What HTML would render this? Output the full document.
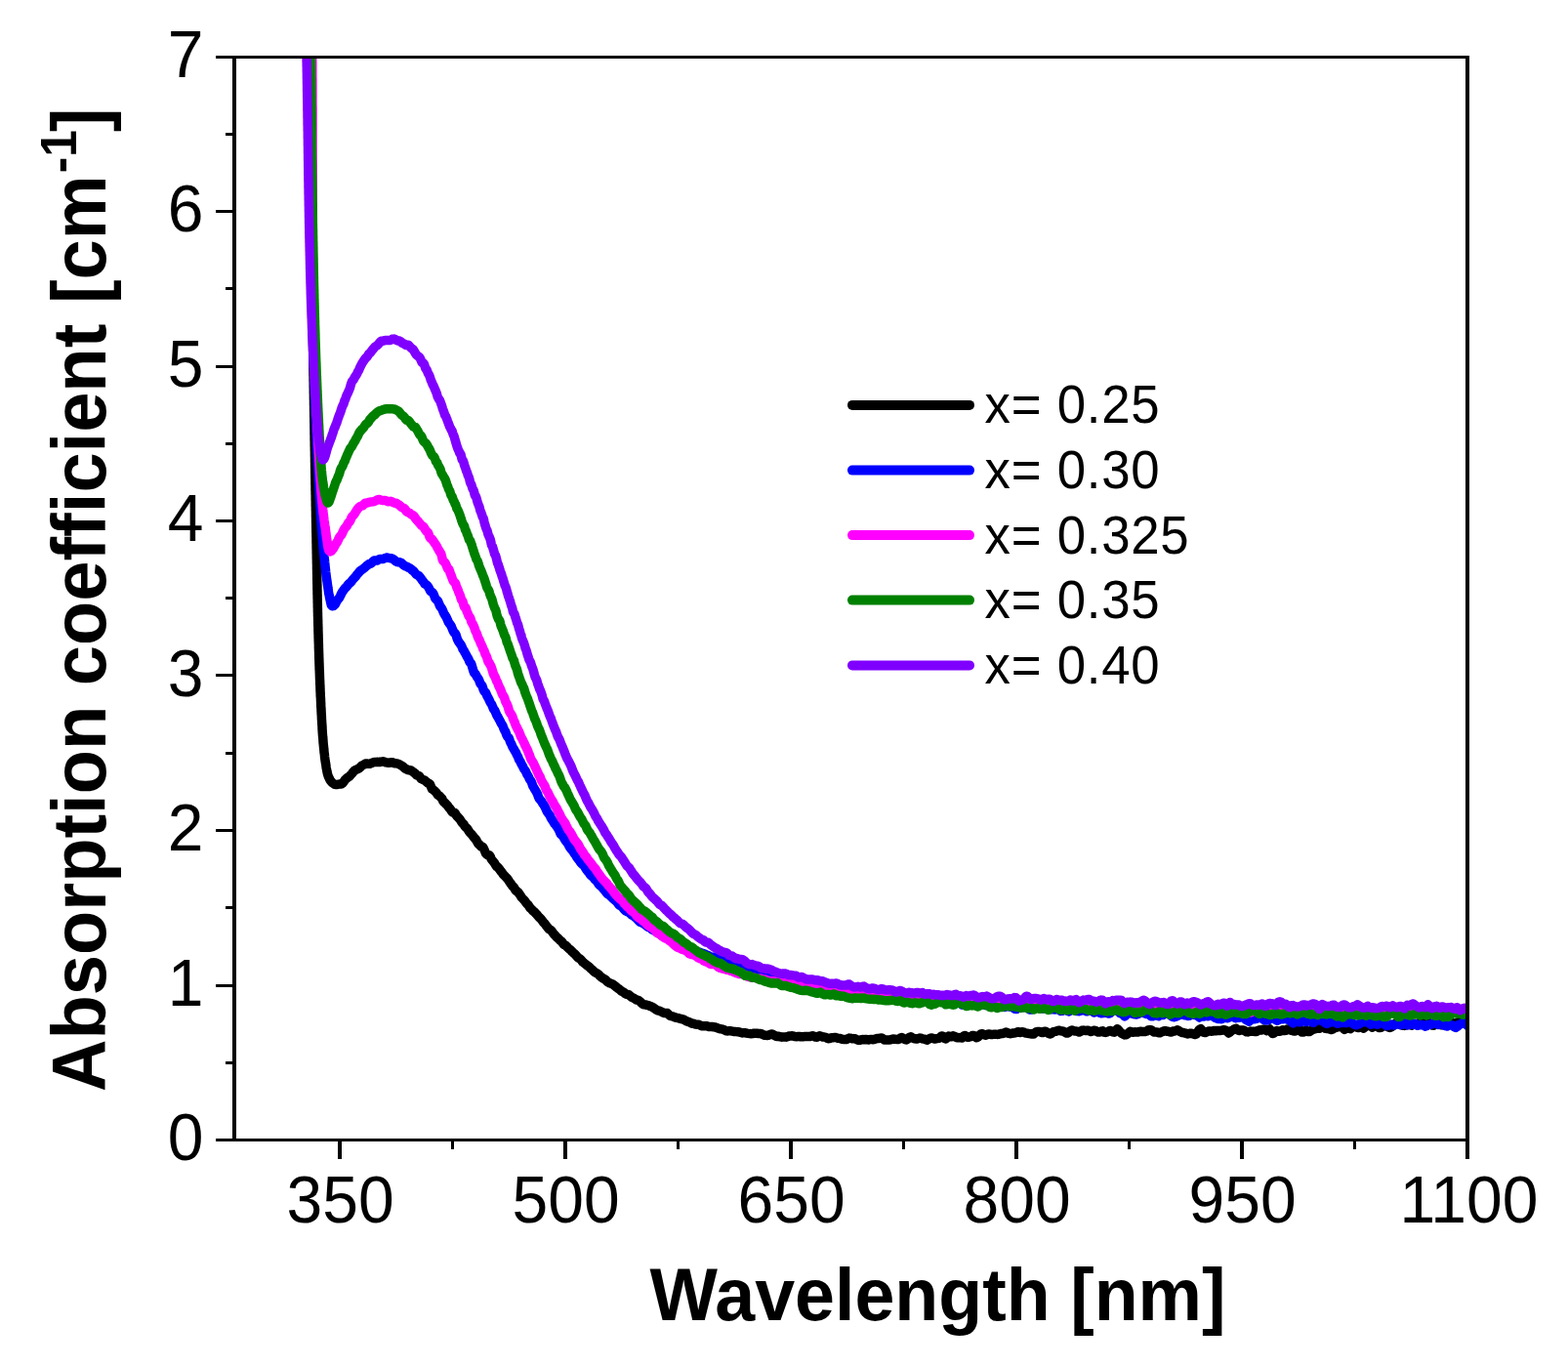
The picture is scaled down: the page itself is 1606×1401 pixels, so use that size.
<!DOCTYPE html>
<html><head><meta charset="utf-8"><title>Absorption coefficient vs wavelength</title>
<style>html,body{margin:0;padding:0;background:#fff;width:1606px;height:1401px;overflow:hidden}svg{display:block}</style>
</head><body>
<svg width="1606" height="1401" viewBox="0 0 1606 1401">
<rect width="100%" height="100%" fill="#fff"/>
<defs><clipPath id="clip"><rect x="240" y="58.5" width="1263" height="1109"/></clipPath></defs>
<g clip-path="url(#clip)"><path d="M317.9,30.1L317.9,31.7 317.9,33.2 317.9,34.5 317.9,35.9 317.9,37.4 317.9,39.0 317.9,40.5 317.9,42.0 317.9,43.4 317.9,45.1 317.9,46.6 317.9,48.1 317.9,49.5 317.9,51.0 317.9,52.6 317.9,54.1 317.9,55.5 317.9,57.0 317.9,58.5 317.9,59.8 317.9,61.3 317.9,62.9 317.9,64.3 317.9,65.7 317.9,67.2 317.9,68.8 317.9,70.2 317.9,71.8 317.9,73.5 317.9,75.1 317.9,76.5 317.9,78.0 317.9,79.6 317.9,81.1 317.9,82.6 317.9,84.1 317.9,85.7 317.9,87.0 317.9,88.5 318.0,90.0 318.0,91.6 318.0,93.1 318.0,94.4 318.0,95.8 318.0,97.3 318.0,98.8 318.0,100.5 318.0,102.1 318.0,103.6 318.0,105.2 318.0,106.8 318.0,108.2 318.0,109.7 318.0,111.1 318.0,112.5 318.0,114.1 318.1,115.5 318.1,116.9 318.1,118.5 318.1,120.1 318.1,121.6 318.1,123.1 318.1,124.6 318.1,126.1 318.1,127.5 318.1,129.1 318.1,130.6 318.1,132.1 318.1,133.6 318.2,135.2 318.2,136.7 318.2,138.2 318.2,139.8 318.2,141.4 318.2,142.8 318.2,144.1 318.2,145.6 318.2,147.2 318.2,148.6 318.2,150.0 318.3,151.6 318.3,153.1 318.3,154.7 318.3,156.2 318.3,157.5 318.3,158.9 318.3,160.4 318.3,162.2 318.3,163.9 318.4,165.3 318.4,166.5 318.4,168.0 318.4,169.8 318.4,171.4 318.4,172.7 318.4,174.1 318.4,175.6 318.4,177.1 318.5,178.6 318.5,180.1 318.5,181.6 318.5,183.2 318.5,184.6 318.5,186.0 318.5,187.4 318.5,189.1 318.6,190.7 318.6,192.1 318.6,193.6 318.6,195.3 318.6,196.9 318.6,198.5 318.6,199.8 318.7,201.0 318.7,202.6 318.7,204.4 318.7,206.0 318.7,207.2 318.7,208.6 318.7,210.1 318.8,211.6 318.8,213.1 318.8,214.6 318.8,216.2 318.8,217.8 318.8,219.3 318.8,220.8 318.9,222.2 318.9,223.5 318.9,224.8 318.9,226.4 318.9,228.1 318.9,229.7 319.0,231.3 319.0,232.9 319.0,234.5 319.0,235.9 319.0,237.4 319.0,238.7 319.0,240.1 319.1,241.5 319.1,243.0 319.1,244.5 319.1,246.0 319.1,247.7 319.1,249.2 319.2,250.5 319.2,251.9 319.2,253.6 319.2,255.3 319.2,256.9 319.3,258.3 319.3,259.7 319.3,261.2 319.3,263.0 319.3,264.6 319.3,266.2 319.4,267.6 319.4,268.8 319.4,270.3 319.4,271.8 319.4,273.4 319.5,274.9 319.5,276.3 319.5,277.7 319.5,279.0 319.5,280.6 319.6,282.1 319.6,283.7 319.6,285.2 319.6,286.8 319.6,288.4 319.6,289.9 319.7,291.3 319.7,292.8 319.7,294.2 319.7,295.7 319.7,297.2 319.8,298.8 319.8,300.3 319.8,301.8 319.8,303.2 319.8,304.7 319.9,306.2 319.9,307.6 319.9,309.1 319.9,310.7 320.0,312.2 320.0,313.6 320.0,315.0 320.0,316.7 320.0,318.4 320.1,319.8 320.1,321.1 320.1,322.6 320.1,324.2 320.1,325.8 320.2,327.2 320.2,328.8 320.2,330.3 320.2,331.7 320.3,333.3 320.3,335.0 320.3,336.5 320.3,337.9 320.3,339.5 320.4,340.9 320.4,342.4 320.4,343.8 320.4,345.3 320.5,346.8 320.5,348.3 320.5,349.7 320.5,351.2 320.5,352.9 320.6,354.6 320.6,356.0 320.6,357.4 320.6,358.8 320.7,360.3 320.7,361.8 320.7,363.1 320.7,364.5 320.7,366.1 320.8,367.6 320.8,369.0 320.8,370.4 320.8,371.9 320.9,373.6 320.9,375.5 320.9,377.1 320.9,378.5 321.0,380.0 321.0,381.2 321.0,382.6 321.0,384.2 321.1,385.9 321.1,387.3 321.1,388.9 321.1,390.4 321.2,391.7 321.2,393.1 321.2,394.7 321.2,396.3 321.3,397.9 321.3,399.6 321.3,401.1 321.3,402.5 321.4,404.0 321.4,405.6 321.4,407.1 321.4,408.6 321.5,410.0 321.5,411.6 321.5,413.3 321.5,414.6 321.6,415.9 321.6,417.5 321.6,419.1 321.6,420.5 321.7,421.9 321.7,423.5 321.7,424.8 321.7,426.4 321.8,427.8 321.8,429.3 321.8,431.0 321.8,432.4 321.9,433.8 321.9,435.3 321.9,436.7 321.9,438.0 322.0,439.7 322.0,441.4 322.0,443.0 322.0,444.5 322.1,446.0 322.1,447.5 322.1,449.0 322.1,450.6 322.2,452.0 322.2,453.5 322.2,454.9 322.2,456.3 322.3,457.9 322.3,459.6 322.3,461.1 322.4,462.4 322.4,463.9 322.4,465.4 322.4,466.9 322.5,468.3 322.5,469.8 322.5,471.3 322.5,472.9 322.6,474.3 322.6,475.6 322.6,477.2 322.6,478.8 322.7,480.3 322.7,481.8 322.7,483.7 322.8,485.4 322.8,486.6 322.8,487.9 322.8,489.4 322.9,490.8 322.9,492.1 322.9,493.7 322.9,495.4 323.0,497.1 323.0,498.6 323.0,500.0 323.0,501.7 323.1,503.3 323.1,504.5 323.1,505.8 323.2,507.4 323.2,509.0 323.2,510.6 323.2,512.0 323.3,513.4 323.3,515.2 323.3,516.9 323.3,518.1 323.4,519.2 323.4,520.7 323.4,522.3 323.5,524.0 323.5,525.7 323.5,527.4 323.5,528.9 323.6,530.2 323.6,531.6 323.6,533.0 323.6,534.6 323.7,536.3 323.7,537.7 323.7,539.1 323.8,540.7 323.8,542.1 323.8,543.4 323.8,544.8 323.9,546.2 323.9,547.6 323.9,549.1 324.0,551.0 324.0,552.6 324.0,554.1 324.0,555.7 324.1,557.2 324.1,558.4 324.1,559.6 324.1,561.3 324.2,563.2 324.2,565.0 324.2,566.6 324.3,567.8 324.3,568.8 324.3,570.1 324.3,571.9 324.4,573.6 324.4,575.2 324.4,576.6 324.5,577.9 324.5,579.3 324.5,580.9 324.5,582.5 324.6,584.1 324.6,585.6 324.6,587.1 324.7,588.6 324.7,590.1 324.7,591.7 324.7,593.1 324.8,594.5 324.8,596.1 324.8,597.8 324.9,599.3 324.9,600.7 324.9,602.1 324.9,603.4 325.0,604.9 325.0,606.5 325.0,608.1 325.1,609.6 325.1,610.8 325.1,612.4 325.2,614.1 325.2,615.6 325.2,616.8 325.3,618.4 325.3,620.0 325.3,621.6 325.4,623.1 325.4,624.7 325.4,626.4 325.5,627.8 325.5,629.2 325.5,630.6 325.6,632.0 325.6,633.6 325.7,635.0 325.7,636.4 325.7,638.0 325.8,639.6 325.8,641.2 325.9,642.6 325.9,644.1 325.9,645.9 326.0,647.5 326.0,649.0 326.1,650.3 326.1,651.6 326.1,653.0 326.2,654.6 326.2,656.2 326.3,657.6 326.3,658.8 326.4,660.3 326.4,661.8 326.4,663.4 326.5,664.8 326.5,666.3 326.6,667.9 326.6,669.4 326.7,670.9 326.7,672.8 326.8,674.4 326.8,675.7 326.9,677.2 326.9,678.6 327.0,679.9 327.0,681.4 327.1,683.0 327.1,684.7 327.2,686.2 327.3,687.5 327.3,688.8 327.4,690.3 327.4,692.0 327.5,693.5 327.5,694.8 327.6,696.4 327.7,698.2 327.7,699.9 327.8,701.4 327.9,702.6 327.9,704.0 328.0,705.6 328.0,707.1 328.1,708.7 328.2,710.4 328.2,712.1 328.3,713.3 328.4,714.7 328.5,716.0 328.5,717.3 328.6,718.9 328.7,720.6 328.7,722.5 328.8,724.0 328.9,725.2 329.0,726.4 329.0,727.7 329.1,729.6 329.2,731.4 329.3,732.7 329.4,734.2 329.4,735.7 329.5,737.0 329.6,738.8 329.7,740.5 329.8,741.8 329.9,743.2 330.0,744.6 330.0,745.9 330.1,747.6 330.2,749.2 330.3,750.6 330.4,752.1 330.5,753.4 330.6,754.6 330.8,756.2 330.9,757.9 331.0,759.4 331.1,761.0 331.3,762.6 331.4,764.0 331.6,765.5 331.7,766.9 331.9,768.6 332.0,770.3 332.2,771.6 332.4,772.9 332.5,774.4 332.7,776.2 332.9,777.7 333.1,779.0 333.3,780.4 333.5,781.6 333.8,783.0 334.0,784.7 334.2,786.4 334.5,787.9 334.8,789.3 335.1,791.0 335.5,792.6 335.9,794.0 336.4,795.4 337.0,796.6 337.6,797.9 338.4,799.3 339.3,800.5 340.3,801.6 341.5,802.4 342.8,803.3 344.2,803.5 345.7,803.4 347.2,803.1 348.5,803.1 349.8,802.8 351.0,802.0 352.2,800.5 353.3,798.8 354.4,797.6 355.5,796.7 356.5,795.9 357.6,795.3 358.6,794.3 359.7,793.1 360.8,791.9 361.9,790.4 363.0,789.2 364.2,788.5 365.3,788.1 366.5,787.5 367.8,786.8 369.1,785.7 370.4,784.3 371.7,783.5 373.1,782.9 374.4,782.1 375.8,782.0 377.3,782.3 378.7,782.3 380.2,781.7 381.6,781.0 383.1,780.6 384.6,780.6 386.1,780.3 387.6,780.4 389.1,780.6 390.6,780.1 392.1,779.8 393.6,780.2 395.1,780.8 396.6,781.0 398.1,781.2 399.5,781.0 401.0,780.7 402.5,781.0 403.9,781.7 405.4,781.8 406.8,781.9 408.2,782.4 409.6,783.2 411.0,784.0 412.4,784.7 413.8,786.1 415.1,787.3 416.5,787.8 417.8,788.5 419.1,788.7 420.4,788.7 421.7,789.4 423.0,790.4 424.3,791.5 425.5,792.4 426.7,793.8 428.0,794.3 429.2,794.6 430.4,796.3 431.5,797.7 432.7,798.2 433.8,798.7 435.0,799.2 436.1,800.1 437.2,801.0 438.3,802.0 439.4,802.3 440.5,803.3 441.6,806.0 442.6,808.2 443.7,808.8 444.7,809.6 445.7,810.5 446.8,811.6 447.8,813.2 448.8,814.4 449.8,814.8 450.8,815.9 451.8,816.9 452.8,818.0 453.8,820.3 454.8,821.6 455.7,822.1 456.7,823.4 457.7,824.3 458.7,825.4 459.6,826.9 460.6,827.9 461.6,829.2 462.6,830.8 463.5,832.0 464.5,832.3 465.4,832.2 466.4,833.2 467.4,835.1 468.3,836.2 469.3,837.2 470.2,838.1 471.2,839.3 472.1,840.7 473.1,842.4 474.0,843.2 475.0,844.3 475.9,845.8 476.9,847.1 477.8,847.7 478.8,848.9 479.7,850.4 480.7,851.9 481.6,853.0 482.5,853.9 483.5,855.0 484.4,856.2 485.4,857.5 486.3,858.5 487.2,859.5 488.2,861.0 489.1,862.8 490.0,864.3 491.0,865.0 491.9,866.0 492.8,867.0 493.8,867.0 494.7,867.6 495.6,869.4 496.6,871.7 497.5,873.9 498.4,874.9 499.4,875.6 500.3,875.8 501.2,875.8 502.2,877.2 503.1,879.6 504.0,880.9 504.9,881.9 505.9,883.2 506.8,884.4 507.7,886.1 508.7,887.5 509.6,887.9 510.5,888.8 511.5,890.2 512.4,891.4 513.3,892.6 514.3,893.8 515.2,895.2 516.2,896.3 517.1,897.1 518.0,898.1 519.0,899.2 519.9,900.1 520.8,901.5 521.8,903.1 522.7,904.4 523.7,905.6 524.6,907.1 525.6,908.0 526.5,909.0 527.5,910.9 528.4,912.3 529.4,912.7 530.3,913.4 531.3,914.6 532.2,915.8 533.2,917.3 534.1,919.0 535.1,920.0 536.1,921.0 537.0,922.1 538.0,923.3 538.9,924.6 539.9,925.7 540.9,926.6 541.9,928.1 542.8,929.7 543.8,930.5 544.8,931.5 545.8,932.8 546.7,933.5 547.7,934.2 548.7,935.4 549.7,936.4 550.7,937.6 551.7,938.9 552.7,939.9 553.7,940.8 554.7,941.9 555.7,943.3 556.7,944.7 557.7,945.6 558.7,946.9 559.7,948.4 560.7,949.5 561.7,950.8 562.7,951.8 563.8,952.3 564.8,953.1 565.8,954.6 566.8,956.0 567.9,957.2 568.9,958.3 569.9,959.5 571.0,960.5 572.0,961.2 573.1,962.5 574.1,963.4 575.2,964.2 576.2,965.5 577.3,967.1 578.3,967.8 579.4,968.2 580.5,969.3 581.6,970.5 582.6,971.5 583.7,972.3 584.8,973.3 585.9,974.6 587.0,975.6 588.1,976.5 589.2,977.5 590.3,978.7 591.4,980.1 592.5,981.0 593.6,981.7 594.7,982.5 595.8,983.8 596.9,985.2 598.1,986.2 599.2,987.0 600.3,987.8 601.5,988.8 602.6,989.6 603.8,990.5 604.9,991.9 606.1,992.7 607.2,993.7 608.4,995.0 609.6,995.9 610.7,996.5 611.9,997.1 613.1,997.9 614.3,999.3 615.5,1000.5 616.7,1001.3 617.9,1002.2 619.1,1002.7 620.3,1003.5 621.5,1004.8 622.7,1005.8 623.9,1006.6 625.2,1007.0 626.4,1007.4 627.6,1008.0 628.9,1009.0 630.1,1009.9 631.4,1011.0 632.6,1012.1 633.9,1012.8 635.1,1013.7 636.4,1015.1 637.7,1015.6 639.0,1016.2 640.2,1017.5 641.5,1018.3 642.8,1018.4 644.1,1018.8 645.4,1019.9 646.7,1021.1 648.0,1021.7 649.3,1022.3 650.6,1023.2 651.9,1024.1 653.3,1024.3 654.6,1024.9 655.9,1025.9 657.3,1027.5 658.6,1028.5 659.9,1028.8 661.3,1029.0 662.6,1029.3 664.0,1029.6 665.3,1030.2 666.7,1030.7 668.1,1031.3 669.4,1032.1 670.8,1033.1 672.2,1034.1 673.5,1034.8 674.9,1035.1 676.3,1035.5 677.7,1036.3 679.1,1037.0 680.5,1037.5 681.9,1037.4 683.3,1037.5 684.7,1038.8 686.1,1040.2 687.5,1040.6 688.9,1040.9 690.3,1041.5 691.7,1042.0 693.1,1042.3 694.5,1042.6 696.0,1043.1 697.4,1043.5 698.8,1043.7 700.2,1044.1 701.7,1045.0 703.1,1045.8 704.5,1046.3 706.0,1046.8 707.4,1047.4 708.9,1048.2 710.3,1048.3 711.7,1048.8 713.2,1049.2 714.6,1049.2 716.1,1049.5 717.6,1050.2 719.0,1050.7 720.5,1050.7 721.9,1050.8 723.4,1050.8 724.9,1051.0 726.3,1051.6 727.8,1051.6 729.3,1051.5 730.7,1051.7 732.2,1051.9 733.7,1052.3 735.2,1053.0 736.6,1053.4 738.1,1053.8 739.6,1053.9 741.1,1054.4 742.5,1055.2 744.0,1055.8 745.5,1055.9 747.0,1055.7 748.5,1055.8 750.0,1056.1 751.4,1056.4 752.9,1056.4 754.4,1056.6 755.9,1056.8 757.4,1057.0 758.9,1057.5 760.4,1057.9 761.9,1057.7 763.4,1057.7 764.8,1058.1 766.3,1058.4 767.8,1058.6 769.3,1058.7 770.8,1058.6 772.3,1058.2 773.8,1058.2 775.3,1058.3 776.8,1058.5 778.3,1058.5 779.8,1058.7 781.3,1059.5 782.8,1060.2 784.3,1060.3 785.8,1060.4 787.3,1060.3 788.8,1059.4 790.3,1058.9 791.8,1059.5 793.3,1060.4 794.8,1061.3 796.3,1061.5 797.8,1061.2 799.3,1061.9 800.8,1062.2 802.3,1061.9 803.8,1061.9 805.3,1062.2 806.8,1061.6 808.3,1061.0 809.8,1060.9 811.3,1060.8 812.8,1061.2 814.3,1061.6 815.8,1061.7 817.3,1061.6 818.8,1061.5 820.3,1061.8 821.8,1061.7 823.3,1061.7 824.8,1061.4 826.3,1061.5 827.8,1061.6 829.3,1061.6 830.8,1061.2 832.3,1060.7 833.8,1061.2 835.3,1062.1 836.8,1062.2 838.3,1061.3 839.8,1060.8 841.3,1061.4 842.8,1062.0 844.3,1062.1 845.8,1062.4 847.3,1063.2 848.8,1063.7 850.3,1063.3 851.8,1062.7 853.3,1062.7 854.8,1062.6 856.3,1062.6 857.8,1063.2 859.3,1063.4 860.8,1063.5 862.3,1064.2 863.8,1064.4 865.3,1064.5 866.8,1064.5 868.3,1063.9 869.8,1063.1 871.3,1063.3 872.8,1063.8 874.3,1063.6 875.8,1063.8 877.3,1064.5 878.8,1065.2 880.3,1065.3 881.8,1064.9 883.3,1064.5 884.8,1064.7 886.3,1064.6 887.8,1064.6 889.3,1065.0 890.8,1064.7 892.3,1064.4 893.8,1064.7 895.3,1064.6 896.8,1064.1 898.3,1063.6 899.8,1063.5 901.3,1063.3 902.8,1063.0 904.3,1063.6 905.8,1065.0 907.3,1065.0 908.8,1065.0 910.3,1065.1 911.8,1064.8 913.3,1064.4 914.8,1063.9 916.3,1064.1 917.8,1064.4 919.3,1064.6 920.8,1064.2 922.3,1063.1 923.8,1062.6 925.3,1063.4 926.8,1064.6 928.3,1064.9 929.8,1064.0 931.3,1062.4 932.8,1061.8 934.3,1062.8 935.8,1063.5 937.3,1063.8 938.8,1064.1 940.3,1063.7 941.8,1063.1 943.3,1063.2 944.8,1063.8 946.3,1064.1 947.8,1064.6 949.3,1065.2 950.8,1064.4 952.3,1063.5 953.8,1063.0 955.3,1063.2 956.8,1063.9 958.3,1063.9 959.8,1063.6 961.3,1063.4 962.8,1062.5 964.3,1060.9 965.8,1061.1 967.3,1063.5 968.8,1063.9 970.3,1062.4 971.8,1061.1 973.3,1061.4 974.8,1061.8 976.3,1060.8 977.8,1061.4 979.3,1062.5 980.8,1062.7 982.3,1062.6 983.8,1062.8 985.3,1062.9 986.8,1061.3 988.3,1060.5 989.8,1061.5 991.3,1062.3 992.8,1062.0 994.3,1061.6 995.8,1060.6 997.3,1060.5 998.8,1061.9 1000.3,1062.7 1001.8,1062.0 1003.3,1060.2 1004.8,1058.9 1006.3,1058.7 1007.8,1059.6 1009.3,1060.3 1010.8,1059.8 1012.3,1058.9 1013.8,1059.2 1015.3,1059.5 1016.8,1059.4 1018.3,1059.2 1019.8,1059.2 1021.3,1059.4 1022.8,1059.3 1024.3,1058.8 1025.8,1058.4 1027.3,1058.4 1028.8,1057.7 1030.3,1057.0 1031.8,1057.8 1033.2,1058.4 1034.7,1058.7 1036.2,1058.3 1037.7,1058.0 1039.2,1057.9 1040.7,1057.6 1042.2,1056.7 1043.7,1056.7 1045.2,1057.5 1046.7,1056.8 1048.2,1056.9 1049.7,1057.8 1051.2,1058.1 1052.7,1058.3 1054.2,1058.6 1055.7,1058.8 1057.2,1059.1 1058.7,1059.1 1060.2,1057.5 1061.7,1056.6 1063.3,1056.4 1064.8,1056.4 1066.3,1057.3 1067.8,1057.6 1069.3,1056.5 1070.8,1056.2 1072.3,1057.2 1073.8,1058.2 1075.3,1058.9 1076.8,1058.4 1078.3,1057.1 1079.8,1056.4 1081.3,1056.3 1082.8,1055.7 1084.3,1055.2 1085.8,1055.6 1087.3,1056.0 1088.8,1056.0 1090.3,1056.7 1091.8,1057.9 1093.3,1058.0 1094.8,1057.2 1096.3,1055.7 1097.8,1055.0 1099.3,1055.6 1100.8,1056.1 1102.3,1056.0 1103.8,1056.4 1105.3,1057.0 1106.8,1056.4 1108.3,1055.3 1109.8,1055.1 1111.3,1055.4 1112.8,1055.5 1114.3,1055.2 1115.8,1055.8 1117.3,1056.6 1118.8,1056.1 1120.3,1055.2 1121.8,1055.4 1123.3,1056.3 1124.8,1057.1 1126.3,1057.1 1127.8,1056.1 1129.3,1055.8 1130.8,1057.1 1132.3,1057.4 1133.8,1057.0 1135.3,1056.3 1136.8,1055.5 1138.3,1055.8 1139.8,1056.9 1141.3,1057.2 1142.8,1055.5 1144.3,1053.7 1145.8,1055.0 1147.3,1057.1 1148.8,1058.3 1150.3,1059.1 1151.8,1059.9 1153.3,1059.7 1154.8,1058.9 1156.3,1057.5 1157.8,1056.3 1159.3,1057.0 1160.9,1057.2 1162.4,1056.8 1163.9,1057.1 1165.4,1057.0 1166.9,1056.4 1168.4,1056.3 1169.9,1056.4 1171.4,1056.6 1172.9,1056.6 1174.4,1056.1 1175.9,1055.0 1177.4,1054.8 1178.9,1054.8 1180.4,1055.8 1181.9,1056.9 1183.4,1057.0 1184.9,1056.9 1186.4,1057.5 1187.9,1057.8 1189.4,1057.0 1190.9,1056.5 1192.4,1055.7 1193.9,1055.8 1195.4,1056.3 1196.9,1056.3 1198.4,1057.0 1199.9,1057.0 1201.4,1056.1 1202.9,1056.0 1204.4,1055.5 1205.9,1054.8 1207.4,1055.5 1208.9,1056.6 1210.4,1057.4 1211.9,1057.5 1213.4,1058.0 1214.9,1058.2 1216.4,1058.9 1217.9,1058.6 1219.4,1058.2 1220.9,1058.5 1222.4,1059.0 1223.9,1059.5 1225.4,1059.0 1226.9,1056.7 1228.4,1054.4 1229.9,1053.6 1231.4,1055.5 1232.9,1057.3 1234.4,1057.5 1235.9,1056.9 1237.4,1056.2 1238.9,1055.9 1240.4,1056.2 1241.9,1056.1 1243.4,1055.5 1244.9,1055.8 1246.4,1055.5 1247.9,1055.5 1249.4,1055.6 1250.9,1055.4 1252.4,1054.8 1254.0,1054.8 1255.5,1055.3 1257.0,1056.5 1258.5,1058.0 1260.0,1056.9 1261.5,1055.5 1263.0,1054.8 1264.5,1053.8 1266.0,1053.4 1267.5,1054.8 1269.0,1055.5 1270.5,1054.9 1272.0,1054.9 1273.5,1055.0 1275.0,1055.8 1276.5,1056.7 1278.0,1056.9 1279.5,1056.5 1281.0,1056.1 1282.5,1056.3 1284.0,1056.2 1285.5,1056.5 1287.0,1056.5 1288.5,1055.4 1290.0,1054.8 1291.5,1055.1 1293.0,1054.4 1294.5,1053.9 1296.0,1054.5 1297.5,1055.6 1299.0,1054.7 1300.5,1054.0 1302.0,1056.3 1303.5,1058.5 1305.0,1058.0 1306.5,1056.0 1308.0,1055.6 1309.5,1056.3 1311.0,1056.3 1312.5,1055.3 1314.0,1054.7 1315.5,1055.5 1317.0,1055.3 1318.5,1054.0 1320.0,1054.1 1321.5,1054.9 1323.0,1055.3 1324.5,1055.8 1326.0,1056.1 1327.5,1055.5 1329.0,1054.3 1330.5,1053.8 1332.0,1055.3 1333.5,1057.1 1335.0,1057.1 1336.5,1055.6 1338.0,1055.3 1339.5,1056.5 1341.0,1056.6 1342.5,1055.7 1344.0,1054.8 1345.5,1054.0 1347.0,1053.8 1348.5,1053.3 1350.0,1053.3 1351.5,1053.2 1353.0,1052.1 1354.5,1051.0 1356.0,1051.9 1357.5,1053.3 1359.0,1053.4 1360.5,1053.4 1362.0,1054.1 1363.5,1054.6 1365.0,1054.1 1366.5,1052.9 1368.0,1052.6 1369.5,1052.1 1371.0,1051.2 1372.5,1050.9 1374.0,1051.7 1375.5,1052.9 1377.0,1054.3 1378.5,1053.5 1380.0,1052.5 1381.5,1053.0 1383.0,1053.6 1384.5,1052.3 1386.0,1051.5 1387.5,1051.3 1389.0,1051.8 1390.5,1052.5 1392.0,1052.4 1393.5,1051.4 1395.0,1052.1 1396.5,1053.1 1398.0,1052.0 1399.5,1050.8 1401.0,1049.3 1402.5,1048.6 1404.0,1050.6 1405.5,1052.0 1407.0,1050.6 1408.5,1049.5 1410.0,1050.6 1411.5,1051.9 1413.0,1052.6 1414.5,1052.4 1416.0,1051.4 1417.5,1050.4 1419.0,1049.9 1420.5,1051.1 1422.0,1052.0 1423.5,1052.4 1425.0,1052.0 1426.5,1050.7 1428.0,1049.5 1429.5,1048.2 1431.0,1047.6 1432.5,1048.8 1434.0,1049.5 1435.5,1049.4 1437.0,1050.2 1438.5,1050.4 1440.0,1049.8 1441.5,1048.3 1443.0,1048.0 1444.5,1049.6 1446.0,1050.3 1447.5,1049.4 1449.0,1048.7 1450.5,1048.6 1452.0,1048.4 1453.5,1047.5 1455.0,1047.0 1456.5,1047.8 1458.0,1047.4 1459.5,1047.5 1461.0,1048.1 1462.5,1047.9 1464.0,1047.8 1465.5,1049.3 1467.0,1050.1 1468.5,1050.2 1470.0,1049.3 1471.5,1046.4 1473.0,1044.9 1474.5,1047.4 1476.0,1049.8 1477.5,1049.5 1479.0,1048.0 1480.5,1047.4 1482.0,1046.8 1483.5,1045.4 1485.0,1045.6 1486.5,1047.0 1488.0,1048.3 1489.5,1048.2 1491.0,1048.4 1492.5,1047.2 1494.0,1046.6 1495.5,1047.8 1497.0,1047.4 1498.5,1047.9 1500.0,1048.3 1501.5,1046.3 1503.0,1044.4" fill="none" stroke="#000000" stroke-width="9.5" stroke-linejoin="round" stroke-linecap="round"/>
<path d="M317.3,30.1L317.3,31.7 317.3,33.2 317.3,34.7 317.4,36.1 317.4,37.4 317.4,38.8 317.4,40.3 317.4,42.0 317.4,43.6 317.4,45.1 317.4,46.4 317.4,47.8 317.4,49.4 317.4,51.0 317.4,52.7 317.4,54.3 317.5,55.7 317.5,57.1 317.5,58.6 317.5,60.1 317.5,61.5 317.5,62.9 317.5,64.4 317.5,65.9 317.5,67.4 317.5,68.9 317.5,70.4 317.5,72.0 317.5,73.4 317.6,75.0 317.6,76.4 317.6,77.9 317.6,79.3 317.6,80.9 317.6,82.5 317.6,84.0 317.6,85.5 317.6,87.1 317.6,88.8 317.6,90.2 317.6,91.6 317.6,93.1 317.6,94.6 317.6,96.1 317.7,97.6 317.7,98.9 317.7,100.3 317.7,101.9 317.7,103.6 317.7,105.1 317.7,106.6 317.7,108.2 317.7,109.7 317.7,111.3 317.7,112.9 317.7,114.4 317.7,115.9 317.8,117.4 317.8,118.9 317.8,120.2 317.8,121.6 317.8,123.1 317.8,124.4 317.8,125.8 317.8,127.4 317.8,129.1 317.8,130.5 317.8,131.8 317.8,133.3 317.8,134.9 317.9,136.5 317.9,138.1 317.9,139.7 317.9,141.3 317.9,142.7 317.9,144.1 317.9,145.4 317.9,146.9 317.9,148.6 317.9,150.2 317.9,151.8 317.9,153.3 318.0,154.8 318.0,156.1 318.0,157.4 318.0,159.0 318.0,160.6 318.0,162.1 318.0,163.5 318.0,165.1 318.0,166.6 318.0,168.1 318.1,169.7 318.1,171.1 318.1,172.6 318.1,174.1 318.1,175.6 318.1,177.0 318.1,178.4 318.1,179.8 318.1,181.4 318.2,183.0 318.2,184.5 318.2,186.0 318.2,187.6 318.2,189.2 318.2,190.8 318.2,192.2 318.2,193.7 318.3,195.3 318.3,196.9 318.3,198.3 318.3,199.6 318.3,201.1 318.3,202.8 318.3,204.4 318.3,205.8 318.4,207.2 318.4,208.6 318.4,210.2 318.4,211.7 318.4,213.0 318.4,214.5 318.4,216.1 318.5,217.8 318.5,219.4 318.5,220.7 318.5,222.1 318.5,223.5 318.5,224.9 318.6,226.6 318.6,228.3 318.6,229.7 318.6,231.0 318.6,232.5 318.6,234.2 318.7,235.8 318.7,237.2 318.7,238.7 318.7,240.2 318.7,241.7 318.7,243.1 318.8,244.6 318.8,245.9 318.8,247.4 318.8,249.0 318.8,250.6 318.9,252.1 318.9,253.7 318.9,255.4 318.9,256.8 318.9,258.3 319.0,259.8 319.0,261.2 319.0,262.6 319.0,264.2 319.1,265.8 319.1,267.1 319.1,268.6 319.1,270.1 319.1,271.5 319.2,273.0 319.2,274.7 319.2,276.2 319.2,277.7 319.3,279.0 319.3,280.6 319.3,282.3 319.3,283.9 319.4,285.4 319.4,287.0 319.4,288.5 319.4,289.9 319.5,291.2 319.5,292.6 319.5,294.0 319.5,295.3 319.6,297.0 319.6,298.8 319.6,300.1 319.7,301.4 319.7,303.1 319.7,304.9 319.7,306.3 319.8,307.8 319.8,309.2 319.8,310.8 319.9,312.4 319.9,313.9 319.9,315.4 320.0,316.9 320.0,318.4 320.0,319.8 320.1,321.3 320.1,322.8 320.1,324.3 320.2,325.8 320.2,327.2 320.2,328.5 320.3,329.9 320.3,331.6 320.3,333.3 320.4,334.7 320.4,336.2 320.4,337.8 320.5,339.3 320.5,340.8 320.5,342.2 320.6,343.7 320.6,345.3 320.7,346.8 320.7,348.3 320.7,349.8 320.8,351.4 320.8,353.0 320.9,354.4 320.9,355.8 320.9,357.3 321.0,358.9 321.0,360.5 321.1,362.0 321.1,363.4 321.2,364.7 321.2,366.1 321.2,367.6 321.3,369.3 321.3,371.0 321.4,372.4 321.4,373.9 321.5,375.4 321.5,376.8 321.6,378.4 321.6,380.0 321.6,381.4 321.7,382.8 321.7,384.2 321.8,385.8 321.8,387.2 321.9,388.5 321.9,390.0 322.0,391.7 322.0,393.1 322.1,394.5 322.1,396.1 322.2,397.7 322.2,399.4 322.3,401.0 322.3,402.3 322.4,403.5 322.5,405.0 322.5,406.7 322.6,408.5 322.6,410.1 322.7,411.7 322.7,413.3 322.8,414.7 322.8,416.0 322.9,417.2 323.0,418.7 323.0,420.2 323.1,421.9 323.1,423.5 323.2,425.1 323.3,426.3 323.3,427.7 323.4,429.4 323.4,431.1 323.5,432.6 323.6,433.8 323.6,435.1 323.7,436.7 323.7,438.1 323.8,439.5 323.9,441.3 323.9,443.1 324.0,444.4 324.1,445.6 324.1,447.2 324.2,448.9 324.3,450.6 324.3,452.2 324.4,453.6 324.5,454.9 324.6,456.3 324.6,457.6 324.7,459.2 324.8,461.0 324.8,462.5 324.9,463.9 325.0,465.3 325.1,466.8 325.1,468.2 325.2,469.6 325.3,471.2 325.4,472.9 325.4,474.5 325.5,476.1 325.6,477.6 325.7,478.9 325.7,480.2 325.8,481.5 325.9,483.2 326.0,485.0 326.1,486.5 326.1,488.0 326.2,489.3 326.3,490.9 326.4,492.7 326.5,494.2 326.5,495.7 326.6,497.0 326.7,498.1 326.8,499.4 326.9,500.9 327.0,502.3 327.1,503.9 327.1,505.9 327.2,507.6 327.3,509.0 327.4,510.4 327.5,511.9 327.6,513.4 327.7,514.9 327.8,516.4 327.9,517.7 328.0,519.0 328.1,520.7 328.2,522.3 328.3,524.0 328.3,525.5 328.4,526.8 328.6,528.4 328.7,529.9 328.8,531.2 328.9,532.6 329.0,534.0 329.1,535.3 329.2,536.9 329.3,538.6 329.4,540.0 329.5,541.4 329.6,543.2 329.8,545.1 329.9,546.6 330.0,547.8 330.1,549.1 330.2,550.6 330.4,552.1 330.5,553.5 330.6,555.1 330.7,556.8 330.9,558.2 331.0,559.4 331.2,561.2 331.3,562.9 331.4,564.4 331.6,565.9 331.7,567.4 331.9,568.7 332.0,569.9 332.2,571.7 332.3,573.1 332.5,574.0 332.6,575.4 332.8,577.2 333.0,579.0 333.1,580.7 333.3,582.2 333.5,583.7 333.6,585.3 333.8,586.8 334.0,588.4 334.2,589.9 334.4,591.3 334.6,592.8 334.8,594.1 335.0,595.3 335.2,596.8 335.4,598.3 335.6,599.6 335.8,601.0 336.0,602.6 336.3,604.4 336.5,606.2 336.7,607.7 337.0,608.8 337.3,610.1 337.5,611.6 337.8,613.0 338.1,614.3 338.4,615.7 338.8,617.6 339.3,619.5 340.1,620.7 341.4,620.6 342.4,619.7 343.3,618.9 344.0,617.4 344.8,615.9 345.5,614.7 346.3,613.7 347.1,612.8 347.9,611.6 348.7,610.0 349.5,608.2 350.4,606.5 351.3,605.2 352.2,604.1 353.1,602.8 354.0,601.8 355.0,600.9 355.9,599.6 356.9,598.4 357.9,597.2 358.9,596.6 359.8,595.8 360.8,594.2 361.8,593.0 362.8,592.0 363.8,590.9 364.8,589.7 365.8,588.3 366.9,587.1 367.9,585.9 369.0,584.6 370.1,583.8 371.1,583.2 372.3,582.3 373.4,581.5 374.5,580.4 375.7,579.3 376.9,578.5 378.1,577.6 379.4,577.2 380.7,576.5 382.0,575.1 383.4,574.0 384.7,573.9 386.1,574.1 387.6,573.2 389.1,572.4 390.5,572.5 392.0,572.4 393.5,571.9 395.0,571.3 396.5,571.0 398.0,571.4 399.5,571.7 401.0,571.8 402.4,572.4 403.9,573.4 405.3,574.7 406.7,575.6 408.1,575.8 409.4,575.8 410.8,576.2 412.1,577.5 413.4,578.7 414.7,579.6 416.0,580.0 417.3,580.6 418.5,581.3 419.7,581.8 420.9,582.7 422.1,583.9 423.3,584.6 424.4,585.9 425.6,587.4 426.7,588.4 427.8,589.1 428.9,589.6 429.9,590.8 431.0,592.2 432.0,593.7 433.0,594.9 434.0,596.3 435.0,597.9 435.9,598.6 436.9,599.0 437.8,599.9 438.7,601.2 439.6,602.8 440.5,604.7 441.3,605.7 442.2,606.2 443.0,606.9 443.9,608.1 444.7,610.0 445.5,612.2 446.3,613.5 447.1,614.2 447.8,614.8 448.6,615.8 449.4,617.7 450.1,619.5 450.8,621.1 451.6,621.9 452.3,622.8 453.0,624.2 453.7,625.8 454.5,627.7 455.2,629.0 455.9,630.1 456.6,631.2 457.3,632.4 458.0,633.9 458.7,635.7 459.4,637.3 460.1,638.3 460.8,639.1 461.5,640.1 462.2,641.3 462.9,643.1 463.6,644.9 464.3,646.3 465.0,647.5 465.7,648.3 466.4,648.9 467.1,650.2 467.8,652.7 468.5,654.8 469.1,655.9 469.8,657.3 470.5,658.3 471.2,659.1 471.9,660.3 472.6,661.3 473.3,662.9 474.0,664.8 474.7,665.8 475.4,666.8 476.1,668.4 476.8,669.4 477.4,670.6 478.1,672.0 478.8,673.2 479.5,674.2 480.2,675.7 480.9,677.8 481.6,678.6 482.3,679.1 482.9,680.3 483.6,682.8 484.3,685.3 485.0,687.4 485.7,689.1 486.4,689.9 487.1,690.4 487.7,691.5 488.4,693.0 489.1,694.0 489.8,694.9 490.5,696.1 491.2,698.0 491.8,699.9 492.5,700.8 493.2,701.4 493.9,702.4 494.6,704.6 495.3,706.5 495.9,707.8 496.6,708.6 497.3,709.1 498.0,710.4 498.7,712.2 499.3,713.5 500.0,714.6 500.7,716.0 501.4,717.5 502.1,719.1 502.7,720.1 503.4,721.1 504.1,722.6 504.8,724.4 505.5,726.0 506.1,726.9 506.8,727.7 507.5,729.3 508.2,730.9 508.8,732.4 509.5,733.6 510.2,734.7 510.9,736.1 511.6,737.3 512.2,738.4 512.9,739.9 513.6,741.2 514.3,742.2 515.0,743.5 515.6,745.2 516.3,746.9 517.0,748.3 517.7,749.4 518.3,751.1 519.0,753.0 519.7,754.4 520.4,755.0 521.1,755.7 521.7,757.1 522.4,759.2 523.1,760.9 523.8,761.9 524.4,763.4 525.1,765.1 525.8,766.3 526.5,767.4 527.2,768.7 527.8,769.8 528.5,770.9 529.2,772.5 529.9,773.9 530.6,775.1 531.2,776.9 531.9,778.4 532.6,779.3 533.3,780.8 534.0,782.4 534.7,783.5 535.4,784.8 536.0,786.1 536.7,787.5 537.4,788.4 538.1,789.4 538.8,790.6 539.5,792.4 540.2,793.7 540.9,794.6 541.6,796.0 542.3,797.7 543.0,798.8 543.7,799.6 544.4,800.9 545.1,803.2 545.8,805.1 546.5,806.1 547.2,807.3 547.9,808.7 548.7,809.9 549.4,811.1 550.1,812.4 550.8,814.0 551.5,816.2 552.3,817.8 553.0,818.6 553.7,819.6 554.5,820.4 555.2,821.6 555.9,823.0 556.7,823.8 557.4,825.0 558.2,826.4 558.9,827.9 559.7,829.8 560.4,831.3 561.2,832.4 561.9,833.4 562.7,834.3 563.5,835.7 564.2,837.5 565.0,838.9 565.8,840.0 566.6,841.1 567.3,842.4 568.1,843.7 568.9,844.5 569.7,845.6 570.5,846.8 571.3,847.9 572.1,849.2 572.9,850.9 573.7,853.0 574.5,854.5 575.3,855.2 576.2,855.8 577.0,857.1 577.8,858.6 578.6,859.9 579.5,861.2 580.3,862.3 581.2,863.2 582.0,864.6 582.9,866.4 583.7,867.8 584.6,869.0 585.4,870.0 586.3,871.1 587.2,872.2 588.0,873.6 588.9,874.8 589.8,876.1 590.7,877.8 591.6,879.0 592.5,880.0 593.4,881.3 594.3,882.7 595.2,883.7 596.1,884.7 597.0,885.6 598.0,886.3 598.9,887.5 599.8,889.2 600.8,890.8 601.7,892.0 602.7,893.1 603.6,894.4 604.6,895.9 605.5,896.9 606.5,897.4 607.5,898.4 608.5,899.7 609.4,900.7 610.4,901.6 611.4,902.6 612.4,904.1 613.4,905.8 614.4,906.7 615.4,907.5 616.4,908.5 617.5,909.8 618.5,911.0 619.5,912.0 620.6,913.4 621.6,914.9 622.7,915.8 623.7,916.4 624.8,917.2 625.8,918.2 626.9,919.2 628.0,920.3 629.1,921.2 630.1,922.1 631.2,923.1 632.3,924.3 633.4,925.9 634.5,927.2 635.7,927.6 636.8,928.2 637.9,929.6 639.0,931.0 640.2,932.3 641.3,933.1 642.5,933.7 643.6,934.1 644.8,934.8 646.0,936.1 647.1,937.2 648.3,937.7 649.5,938.4 650.7,939.5 651.9,940.6 653.1,941.7 654.3,943.0 655.5,944.3 656.7,944.7 658.0,945.1 659.2,945.9 660.4,946.8 661.7,947.7 662.9,948.8 664.2,949.5 665.5,949.9 666.7,950.9 668.0,952.0 669.3,952.8 670.6,953.2 671.9,954.1 673.2,955.1 674.5,955.8 675.8,956.2 677.1,957.1 678.4,958.4 679.7,958.9 681.0,959.1 682.4,959.8 683.7,960.4 685.0,960.9 686.4,961.8 687.7,962.8 689.0,963.5 690.4,964.1 691.8,964.5 693.1,964.8 694.5,965.6 695.8,966.5 697.2,966.9 698.6,967.7 699.9,968.6 701.3,969.4 702.7,970.2 704.1,970.7 705.5,971.1 706.9,971.4 708.2,971.8 709.6,972.4 711.0,973.2 712.4,973.8 713.8,974.6 715.2,975.1 716.6,975.3 718.0,975.8 719.4,976.2 720.9,976.7 722.3,977.2 723.7,977.9 725.1,978.4 726.5,979.0 727.9,980.0 729.3,980.3 730.8,980.1 732.2,980.7 733.6,981.6 735.0,982.4 736.5,982.7 737.9,982.9 739.3,983.3 740.8,983.7 742.2,983.8 743.6,984.0 745.0,984.6 746.5,985.3 747.9,986.0 749.4,986.4 750.8,986.5 752.2,986.8 753.7,987.1 755.1,987.5 756.6,987.7 758.0,988.6 759.4,989.5 760.9,989.7 762.3,989.8 763.8,990.2 765.2,990.4 766.7,991.0 768.1,991.8 769.6,992.4 771.0,993.3 772.5,993.5 773.9,993.3 775.4,993.3 776.8,993.4 778.3,993.6 779.7,994.7 781.2,995.7 782.6,996.0 784.1,996.1 785.5,996.6 787.0,997.1 788.4,997.3 789.9,997.8 791.4,998.4 792.8,998.5 794.3,998.5 795.7,998.7 797.2,998.9 798.7,998.9 800.1,999.4 801.6,999.6 803.0,999.2 804.5,1000.0 806.0,1001.6 807.4,1002.2 808.9,1002.5 810.4,1002.7 811.8,1003.3 813.3,1003.3 814.8,1003.2 816.2,1003.9 817.7,1005.1 819.2,1005.7 820.7,1005.1 822.1,1004.5 823.6,1004.7 825.1,1005.7 826.5,1006.3 828.0,1006.3 829.5,1006.4 831.0,1007.0 832.4,1007.2 833.9,1007.0 835.4,1006.7 836.8,1007.6 838.3,1008.8 839.8,1009.3 841.3,1009.8 842.8,1009.5 844.2,1009.2 845.7,1009.5 847.2,1009.7 848.7,1009.7 850.1,1010.0 851.6,1010.5 853.1,1011.1 854.6,1011.0 856.1,1010.6 857.5,1010.2 859.0,1010.5 860.5,1011.1 862.0,1011.5 863.5,1012.0 864.9,1012.7 866.4,1012.8 867.9,1012.5 869.4,1013.0 870.9,1013.5 872.4,1013.2 873.8,1013.0 875.3,1013.9 876.8,1015.1 878.3,1015.6 879.8,1015.8 881.3,1015.7 882.7,1015.5 884.2,1015.1 885.7,1015.4 887.2,1016.4 888.7,1017.4 890.2,1017.5 891.7,1017.3 893.2,1016.9 894.6,1017.2 896.1,1018.3 897.6,1019.0 899.1,1019.1 900.6,1018.9 902.1,1018.8 903.6,1019.5 905.1,1019.6 906.5,1019.6 908.0,1019.0 909.5,1017.6 911.0,1017.1 912.5,1017.8 914.0,1019.3 915.5,1020.2 917.0,1020.3 918.5,1020.1 920.0,1019.6 921.4,1019.5 922.9,1019.8 924.4,1020.1 925.9,1020.3 927.4,1020.9 928.9,1021.4 930.4,1021.1 931.9,1020.8 933.4,1020.8 934.9,1020.8 936.4,1021.4 937.9,1022.4 939.4,1022.4 940.8,1021.8 942.3,1022.3 943.8,1023.3 945.3,1024.0 946.8,1024.2 948.3,1024.2 949.8,1023.8 951.3,1023.7 952.8,1024.1 954.3,1025.0 955.8,1025.7 957.3,1026.1 958.8,1025.4 960.3,1023.9 961.8,1023.0 963.3,1023.1 964.8,1024.0 966.2,1024.5 967.7,1023.8 969.2,1023.6 970.7,1024.9 972.2,1026.3 973.7,1027.1 975.2,1027.3 976.7,1026.4 978.2,1025.7 979.7,1025.4 981.2,1025.2 982.7,1026.1 984.2,1028.0 985.7,1029.1 987.2,1028.7 988.7,1027.7 990.2,1027.1 991.7,1026.7 993.2,1026.4 994.7,1027.5 996.2,1028.2 997.7,1027.8 999.2,1027.2 1000.7,1027.1 1002.2,1028.1 1003.7,1027.8 1005.2,1026.5 1006.6,1027.2 1008.1,1028.9 1009.6,1029.5 1011.1,1028.8 1012.6,1029.2 1014.1,1030.1 1015.6,1029.8 1017.1,1029.1 1018.6,1028.8 1020.1,1028.9 1021.6,1029.2 1023.1,1029.7 1024.6,1029.7 1026.1,1030.4 1027.6,1031.3 1029.1,1031.4 1030.6,1030.8 1032.1,1030.6 1033.6,1030.8 1035.1,1031.2 1036.6,1031.6 1038.1,1032.1 1039.6,1033.4 1041.1,1033.6 1042.6,1031.9 1044.1,1030.9 1045.6,1030.8 1047.1,1031.6 1048.6,1031.8 1050.1,1031.1 1051.6,1030.9 1053.1,1032.2 1054.6,1034.0 1056.1,1034.1 1057.6,1032.8 1059.1,1031.8 1060.6,1031.5 1062.1,1030.9 1063.6,1030.6 1065.1,1031.3 1066.6,1032.6 1068.1,1033.0 1069.6,1032.4 1071.1,1031.4 1072.6,1031.7 1074.1,1033.0 1075.6,1033.6 1077.1,1033.8 1078.6,1033.6 1080.1,1033.9 1081.6,1033.8 1083.1,1033.3 1084.6,1034.0 1086.1,1035.4 1087.6,1035.3 1089.1,1034.2 1090.6,1033.5 1092.0,1033.7 1093.5,1035.5 1095.0,1035.9 1096.5,1034.7 1098.0,1033.5 1099.5,1032.8 1101.0,1034.4 1102.5,1035.5 1104.0,1035.6 1105.5,1035.7 1107.0,1035.1 1108.5,1034.0 1110.0,1034.0 1111.5,1035.0 1113.0,1035.8 1114.5,1035.4 1116.0,1034.9 1117.5,1035.0 1119.0,1035.6 1120.5,1036.9 1122.0,1036.4 1123.5,1035.4 1125.0,1036.1 1126.5,1037.3 1128.0,1037.8 1129.5,1037.6 1131.0,1036.7 1132.5,1037.2 1134.0,1037.5 1135.5,1038.0 1137.0,1037.8 1138.5,1035.7 1140.0,1034.7 1141.5,1034.8 1143.0,1034.2 1144.5,1034.5 1146.0,1036.5 1147.5,1037.8 1149.0,1037.8 1150.5,1039.3 1152.0,1040.9 1153.5,1039.3 1155.0,1037.6 1156.5,1037.5 1158.0,1037.8 1159.5,1038.0 1161.0,1038.5 1162.5,1038.8 1164.0,1039.0 1165.5,1038.5 1167.0,1037.7 1168.5,1036.7 1170.0,1036.5 1171.5,1037.2 1173.0,1038.0 1174.5,1038.5 1176.0,1038.6 1177.5,1039.4 1179.0,1040.8 1180.5,1040.7 1182.0,1039.9 1183.5,1039.3 1185.0,1040.1 1186.5,1040.7 1188.0,1039.9 1189.5,1039.3 1191.0,1039.6 1192.5,1038.5 1194.0,1037.1 1195.5,1037.3 1197.0,1038.6 1198.5,1039.6 1200.0,1040.7 1201.5,1041.5 1203.0,1041.7 1204.5,1041.1 1206.0,1040.4 1207.5,1039.8 1209.0,1039.1 1210.5,1038.8 1212.0,1039.3 1213.5,1039.8 1215.0,1039.8 1216.5,1040.4 1218.0,1040.3 1219.5,1038.6 1221.0,1038.4 1222.5,1039.2 1224.0,1039.6 1225.5,1039.4 1227.0,1040.7 1228.5,1042.0 1230.0,1040.9 1231.5,1040.7 1233.0,1041.1 1234.5,1040.6 1236.0,1040.5 1237.5,1040.7 1239.0,1039.7 1240.5,1039.7 1242.0,1040.6 1243.5,1041.5 1245.0,1042.5 1246.5,1043.0 1248.0,1043.6 1249.5,1043.6 1251.0,1043.7 1252.5,1043.0 1254.0,1042.1 1255.5,1042.3 1257.0,1042.7 1258.5,1042.2 1260.0,1041.6 1261.5,1040.6 1263.0,1040.5 1264.5,1042.2 1266.0,1042.7 1267.5,1042.1 1269.0,1042.3 1270.5,1041.7 1272.0,1040.6 1273.5,1041.5 1275.0,1043.5 1276.5,1044.6 1278.0,1045.4 1279.5,1046.1 1281.0,1044.5 1282.5,1042.4 1284.0,1042.4 1285.5,1043.7 1287.0,1043.4 1288.5,1042.6 1290.0,1042.2 1291.5,1042.3 1293.0,1043.2 1294.5,1044.3 1296.0,1044.8 1297.5,1045.0 1299.0,1044.8 1300.5,1043.6 1302.0,1042.8 1303.5,1042.7 1305.0,1042.7 1306.5,1044.4 1308.0,1045.3 1309.5,1044.7 1311.0,1043.6 1312.5,1043.6 1314.0,1043.7 1315.5,1043.2 1317.0,1043.1 1318.5,1044.0 1320.0,1044.6 1321.5,1045.1 1323.0,1046.8 1324.5,1047.9 1326.0,1046.7 1327.5,1045.4 1329.0,1045.7 1330.5,1046.8 1332.0,1046.7 1333.5,1046.3 1335.0,1045.8 1336.5,1045.9 1338.0,1046.6 1339.5,1046.0 1341.0,1044.9 1342.5,1044.9 1344.0,1047.1 1345.5,1047.4 1347.0,1045.9 1348.5,1044.7 1350.0,1044.1 1351.5,1044.2 1353.0,1045.2 1354.5,1045.7 1356.0,1046.6 1357.5,1047.8 1359.0,1048.5 1360.5,1047.8 1362.0,1047.1 1363.5,1046.8 1365.0,1046.1 1366.5,1046.3 1368.0,1047.4 1369.5,1048.3 1371.0,1048.0 1372.5,1047.6 1374.0,1047.6 1375.5,1046.5 1377.0,1046.2 1378.5,1047.7 1380.0,1047.4 1381.5,1046.2 1383.0,1045.7 1384.5,1047.0 1386.0,1048.7 1387.5,1049.3 1389.0,1049.8 1390.5,1049.2 1392.0,1048.8 1393.5,1047.9 1395.0,1047.0 1396.5,1046.8 1398.0,1046.5 1399.5,1045.8 1401.0,1046.3 1402.5,1048.1 1404.0,1049.3 1405.5,1048.7 1407.0,1047.9 1408.5,1047.9 1410.0,1049.2 1411.5,1049.1 1413.0,1047.7 1414.5,1047.5 1416.0,1047.3 1417.5,1047.7 1419.0,1049.8 1420.5,1050.6 1422.0,1050.2 1423.5,1049.9 1425.0,1049.1 1426.5,1049.4 1428.0,1049.9 1429.5,1049.2 1431.0,1048.5 1432.5,1048.4 1434.0,1049.5 1435.5,1049.7 1437.0,1048.2 1438.6,1047.8 1440.1,1049.1 1441.6,1049.9 1443.1,1048.8 1444.6,1048.1 1446.1,1049.0 1447.6,1049.3 1449.1,1048.3 1450.6,1049.0 1452.1,1050.3 1453.6,1049.8 1455.1,1049.5 1456.6,1049.5 1458.1,1049.7 1459.6,1051.1 1461.1,1050.7 1462.6,1049.5 1464.1,1049.3 1465.6,1049.2 1467.1,1048.5 1468.6,1047.9 1470.1,1047.9 1471.6,1048.3 1473.1,1049.4 1474.6,1048.7 1476.1,1048.1 1477.6,1048.8 1479.1,1050.0 1480.6,1050.6 1482.1,1051.0 1483.6,1050.2 1485.1,1049.9 1486.6,1049.8 1488.1,1050.3 1489.6,1051.7 1491.1,1052.4 1492.6,1051.4 1494.1,1049.6 1495.6,1049.1 1497.1,1048.3 1498.6,1047.4 1500.1,1047.2 1501.6,1048.6 1503.1,1050.4" fill="none" stroke="#0000ff" stroke-width="9.5" stroke-linejoin="round" stroke-linecap="round"/>
<path d="M319.5,30.1L319.5,31.3 319.5,33.0 319.5,34.6 319.5,36.2 319.6,37.8 319.6,39.3 319.6,40.6 319.6,42.0 319.6,43.6 319.6,45.1 319.6,46.5 319.6,48.0 319.7,49.6 319.7,51.1 319.7,52.5 319.7,53.8 319.7,55.4 319.7,57.1 319.7,58.7 319.7,60.3 319.7,61.8 319.8,63.4 319.8,64.9 319.8,66.3 319.8,67.7 319.8,69.1 319.8,70.6 319.8,72.0 319.8,73.6 319.8,75.2 319.8,76.6 319.8,78.0 319.8,79.4 319.9,81.0 319.9,82.7 319.9,84.2 319.9,85.5 319.9,86.9 319.9,88.5 319.9,89.9 319.9,91.4 319.9,93.0 319.9,94.6 319.9,96.2 319.9,97.7 319.9,99.1 319.9,100.6 319.9,102.2 319.9,103.8 319.9,105.2 319.9,106.7 319.9,108.2 320.0,109.8 320.0,111.3 320.0,112.8 320.0,114.3 320.0,115.8 320.0,117.1 320.0,118.5 320.0,120.0 320.0,121.6 320.0,123.0 320.0,124.5 320.0,126.2 320.0,127.8 320.0,129.1 320.0,130.2 320.0,131.7 320.0,133.3 320.0,134.9 320.0,136.6 320.0,138.3 320.0,139.7 320.0,141.1 320.0,142.7 320.0,144.2 320.0,145.6 320.0,147.0 320.0,148.6 320.0,150.0 320.0,151.3 320.0,152.9 320.0,154.7 320.0,156.3 320.0,157.6 320.0,159.0 320.0,160.4 320.0,162.0 320.0,163.6 320.1,165.3 320.1,166.9 320.1,168.3 320.1,169.7 320.1,171.3 320.1,172.8 320.1,174.1 320.1,175.5 320.1,177.1 320.1,178.8 320.1,180.4 320.1,181.8 320.1,183.0 320.1,184.5 320.1,186.0 320.1,187.6 320.1,189.3 320.1,190.7 320.1,192.1 320.1,193.7 320.1,195.3 320.1,196.8 320.1,198.2 320.1,199.8 320.1,201.3 320.1,202.6 320.1,204.0 320.1,205.6 320.1,207.2 320.2,208.7 320.2,210.0 320.2,211.7 320.2,213.5 320.2,214.9 320.2,216.4 320.2,217.8 320.2,219.2 320.2,220.6 320.2,222.1 320.2,223.5 320.2,225.1 320.2,227.0 320.2,228.5 320.2,229.8 320.2,231.2 320.3,232.7 320.3,234.3 320.3,235.8 320.3,237.2 320.3,238.6 320.3,240.3 320.3,242.0 320.3,243.4 320.3,244.9 320.3,246.4 320.3,248.0 320.4,249.5 320.4,250.8 320.4,252.2 320.4,253.7 320.4,255.2 320.4,256.7 320.4,258.3 320.4,259.8 320.4,261.2 320.5,262.9 320.5,264.7 320.5,266.1 320.5,267.5 320.5,269.0 320.5,270.2 320.5,271.3 320.6,272.7 320.6,274.4 320.6,276.2 320.6,277.7 320.6,279.1 320.6,280.7 320.6,282.2 320.7,283.8 320.7,285.4 320.7,286.9 320.7,288.3 320.7,289.7 320.8,291.2 320.8,292.8 320.8,294.5 320.8,296.2 320.8,297.8 320.9,299.2 320.9,300.6 320.9,302.1 320.9,303.3 320.9,304.5 321.0,306.0 321.0,307.8 321.0,309.5 321.0,310.9 321.1,312.4 321.1,314.0 321.1,315.6 321.1,316.9 321.2,318.2 321.2,319.8 321.2,321.3 321.2,322.5 321.3,323.7 321.3,325.2 321.3,327.0 321.4,328.8 321.4,330.3 321.4,331.6 321.4,333.1 321.5,334.7 321.5,336.2 321.5,337.7 321.6,339.2 321.6,340.8 321.6,342.3 321.7,343.6 321.7,345.1 321.7,346.7 321.8,348.3 321.8,349.9 321.8,351.4 321.9,353.0 321.9,354.5 322.0,355.9 322.0,357.3 322.0,358.9 322.1,360.4 322.1,362.0 322.2,363.7 322.2,365.3 322.2,366.5 322.3,367.6 322.3,369.1 322.4,370.8 322.4,372.2 322.5,373.9 322.5,375.6 322.5,377.0 322.6,378.3 322.6,379.9 322.7,381.5 322.7,382.9 322.8,384.3 322.8,385.7 322.9,387.1 322.9,388.7 323.0,390.2 323.0,391.9 323.1,393.4 323.1,394.8 323.2,396.4 323.3,398.0 323.3,399.4 323.4,400.9 323.4,402.3 323.5,403.8 323.5,405.3 323.6,406.9 323.7,408.3 323.7,409.5 323.8,410.9 323.8,412.4 323.9,414.1 324.0,415.8 324.0,417.4 324.1,419.0 324.1,420.2 324.2,421.4 324.3,423.1 324.3,425.1 324.4,426.7 324.5,427.9 324.6,429.3 324.6,430.9 324.7,432.2 324.8,433.7 324.8,435.3 324.9,436.8 325.0,438.1 325.1,439.8 325.1,441.4 325.2,442.7 325.3,444.1 325.4,445.7 325.4,447.3 325.5,448.7 325.6,450.2 325.7,451.8 325.8,453.2 325.8,454.6 325.9,456.2 326.0,457.8 326.1,459.2 326.2,460.5 326.3,462.1 326.3,463.9 326.4,465.5 326.5,467.0 326.6,468.5 326.7,470.1 326.8,471.7 326.9,473.3 327.0,474.5 327.1,475.8 327.2,477.2 327.3,478.5 327.3,480.1 327.4,481.7 327.5,483.3 327.6,484.9 327.7,486.2 327.8,487.5 327.9,489.0 328.0,490.6 328.1,492.2 328.3,493.8 328.4,495.3 328.5,497.0 328.6,498.6 328.7,499.9 328.8,501.3 328.9,502.5 329.0,504.1 329.1,505.7 329.3,507.0 329.4,508.4 329.5,510.2 329.7,512.0 329.8,513.5 329.9,514.8 330.1,516.0 330.2,517.3 330.4,519.2 330.5,521.0 330.7,522.3 330.9,523.4 331.0,525.0 331.2,526.3 331.4,527.5 331.6,529.3 331.8,531.1 332.0,532.8 332.2,534.2 332.4,535.6 332.6,537.1 332.8,538.5 333.1,539.8 333.3,541.3 333.5,543.0 333.7,544.8 333.9,546.5 334.1,547.9 334.3,549.4 334.5,550.9 334.7,552.2 334.9,553.3 335.1,554.7 335.3,556.4 335.5,558.1 335.8,559.7 336.1,561.2 336.5,562.7 337.1,564.1 338.1,564.9 339.4,564.2 340.3,563.1 341.2,562.1 341.9,561.0 342.7,559.4 343.4,557.9 344.2,556.7 345.0,555.7 345.7,554.5 346.5,552.8 347.3,550.9 348.0,549.5 348.8,548.8 349.6,548.0 350.4,546.6 351.2,544.6 352.0,543.1 352.7,541.6 353.5,540.5 354.3,539.7 355.1,538.8 355.9,537.2 356.6,535.7 357.4,534.8 358.1,534.3 358.9,533.0 359.7,530.7 360.5,529.2 361.3,528.3 362.1,527.6 363.0,526.5 363.8,525.1 364.8,523.4 365.7,522.0 366.7,520.7 367.8,519.5 368.9,518.6 370.1,518.1 371.3,517.9 372.5,516.8 373.9,515.4 375.2,515.0 376.6,515.0 378.0,514.4 379.5,514.0 380.9,513.9 382.4,513.7 383.9,513.2 385.4,512.5 386.9,511.7 388.4,511.5 389.9,512.0 391.4,512.4 392.9,512.4 394.4,512.4 395.8,512.9 397.3,513.8 398.8,513.6 400.2,513.3 401.7,513.9 403.1,514.8 404.5,515.2 405.9,515.2 407.2,516.2 408.6,517.1 409.9,518.1 411.2,519.4 412.5,520.1 413.7,520.4 415.0,521.7 416.2,523.5 417.4,524.5 418.5,525.0 419.7,525.6 420.8,526.6 421.9,527.3 423.0,527.7 424.1,528.6 425.2,530.3 426.2,531.8 427.2,533.0 428.2,533.9 429.2,535.2 430.2,536.3 431.2,537.6 432.1,538.4 433.1,538.8 434.0,539.7 434.9,541.2 435.8,542.8 436.7,544.1 437.6,544.7 438.5,545.5 439.3,547.8 440.2,550.3 441.0,551.4 441.8,551.5 442.7,552.4 443.5,553.8 444.3,554.8 445.1,556.0 445.8,557.1 446.6,558.1 447.4,559.5 448.1,561.1 448.9,562.5 449.6,563.6 450.3,564.9 451.1,566.0 451.8,567.3 452.5,569.8 453.2,573.1 453.9,574.4 454.6,575.0 455.2,575.7 455.9,576.4 456.6,577.6 457.2,579.2 457.9,580.8 458.5,582.3 459.2,583.1 459.8,583.0 460.5,584.7 461.1,587.0 461.7,588.4 462.4,590.0 463.0,591.9 463.6,593.5 464.2,594.9 464.8,595.7 465.5,596.4 466.1,596.9 466.7,597.9 467.3,599.9 467.9,601.7 468.5,602.9 469.1,604.2 469.7,606.1 470.3,607.7 470.9,608.8 471.5,610.4 472.1,612.7 472.7,614.3 473.3,615.0 473.9,616.0 474.5,617.9 475.1,620.2 475.7,621.8 476.3,622.0 476.9,622.2 477.5,623.8 478.1,626.1 478.7,627.2 479.3,628.6 479.9,630.3 480.5,631.5 481.1,631.9 481.7,632.8 482.3,634.9 482.9,636.9 483.5,638.1 484.1,638.6 484.6,639.9 485.2,641.3 485.8,642.6 486.4,644.5 487.0,646.4 487.6,647.3 488.2,648.4 488.8,650.3 489.4,652.3 490.0,653.7 490.6,654.6 491.1,655.4 491.7,657.2 492.3,658.8 492.9,659.9 493.5,661.1 494.1,662.6 494.7,664.4 495.3,665.4 495.9,666.4 496.4,668.1 497.0,669.8 497.6,671.1 498.2,672.0 498.8,673.5 499.4,675.7 500.0,677.6 500.6,678.3 501.2,678.9 501.7,680.2 502.3,681.2 502.9,682.3 503.5,683.9 504.1,685.9 504.7,687.9 505.3,689.9 505.9,691.3 506.5,692.3 507.0,693.2 507.6,694.5 508.2,696.2 508.8,697.7 509.4,698.6 510.0,700.0 510.6,702.0 511.2,703.2 511.8,704.2 512.4,705.6 513.0,707.1 513.6,708.6 514.1,710.1 514.7,711.3 515.3,712.3 515.9,713.2 516.5,714.3 517.1,716.2 517.7,718.3 518.3,719.5 518.9,720.4 519.5,721.7 520.1,723.2 520.7,725.2 521.3,727.5 521.9,729.0 522.5,730.0 523.1,730.9 523.7,731.6 524.3,732.6 524.9,734.1 525.5,735.8 526.1,737.4 526.7,738.7 527.3,740.0 527.9,742.0 528.6,743.7 529.2,744.6 529.8,745.9 530.4,747.2 531.0,748.2 531.6,749.3 532.2,750.9 532.8,752.5 533.4,754.2 534.1,755.5 534.7,756.6 535.3,757.7 535.9,759.0 536.5,760.2 537.2,761.6 537.8,763.2 538.4,764.3 539.0,765.4 539.6,766.7 540.3,768.0 540.9,769.7 541.5,771.4 542.2,772.8 542.8,774.6 543.4,776.6 544.1,778.0 544.7,779.0 545.4,779.9 546.0,780.9 546.6,782.1 547.3,783.5 547.9,785.0 548.6,786.3 549.2,787.7 549.9,789.3 550.5,790.4 551.2,791.9 551.8,793.5 552.5,794.5 553.2,795.7 553.8,797.4 554.5,799.2 555.2,800.4 555.8,801.4 556.5,802.6 557.2,803.6 557.9,804.7 558.5,806.5 559.2,808.4 559.9,809.7 560.6,810.6 561.3,811.7 562.0,813.4 562.7,814.8 563.4,816.3 564.1,817.8 564.8,818.8 565.5,819.8 566.2,820.9 566.9,822.3 567.6,823.7 568.3,825.0 569.0,826.2 569.8,827.1 570.5,828.4 571.2,830.1 571.9,831.4 572.7,832.6 573.4,834.0 574.2,835.9 574.9,837.4 575.6,838.4 576.4,839.6 577.1,840.6 577.9,841.7 578.7,842.9 579.4,844.6 580.2,846.1 580.9,847.6 581.7,849.1 582.5,850.3 583.3,851.2 584.1,852.2 584.8,853.5 585.6,854.8 586.4,856.3 587.2,858.1 588.0,859.4 588.8,860.5 589.6,861.4 590.4,862.3 591.2,863.4 592.1,864.5 592.9,866.0 593.7,867.7 594.5,869.2 595.4,870.5 596.2,871.6 597.1,872.8 597.9,874.2 598.8,875.8 599.6,876.8 600.5,877.5 601.3,878.9 602.2,880.4 603.1,881.4 603.9,882.4 604.8,883.4 605.7,884.5 606.6,885.9 607.5,887.1 608.4,888.1 609.3,889.0 610.2,890.3 611.1,891.8 612.0,893.2 612.9,894.4 613.8,895.6 614.8,897.0 615.7,898.3 616.6,899.4 617.6,900.6 618.5,901.6 619.5,902.6 620.4,903.6 621.4,904.6 622.4,906.0 623.3,907.2 624.3,908.2 625.3,909.4 626.3,910.5 627.3,911.6 628.2,913.0 629.2,914.4 630.2,915.7 631.3,916.8 632.3,918.0 633.3,918.9 634.3,919.9 635.3,920.9 636.4,921.5 637.4,922.5 638.5,923.9 639.5,925.4 640.6,926.5 641.6,927.5 642.7,928.7 643.7,929.5 644.8,930.4 645.9,931.9 647.0,932.9 648.1,933.6 649.2,934.5 650.3,935.4 651.4,936.9 652.5,938.6 653.6,939.6 654.7,940.2 655.8,940.9 656.9,941.6 658.1,942.7 659.2,943.6 660.4,944.4 661.5,945.6 662.7,946.8 663.8,947.7 665.0,948.6 666.2,949.2 667.3,949.9 668.5,950.7 669.7,951.5 670.9,952.8 672.1,954.5 673.3,955.7 674.5,955.9 675.7,956.3 676.9,957.7 678.1,958.8 679.3,959.6 680.6,960.5 681.8,961.2 683.0,961.5 684.3,962.3 685.5,963.3 686.8,964.0 688.0,965.2 689.3,966.5 690.5,967.6 691.8,968.7 693.1,969.6 694.3,970.3 695.6,970.8 696.9,971.4 698.2,972.1 699.5,972.5 700.8,972.9 702.1,973.5 703.4,974.1 704.7,975.3 706.0,976.7 707.3,977.3 708.7,977.5 710.0,977.7 711.3,978.2 712.7,979.0 714.0,979.9 715.3,980.9 716.7,981.6 718.0,982.0 719.4,982.6 720.7,983.9 722.1,984.6 723.5,985.0 724.8,985.5 726.2,986.5 727.6,987.3 728.9,987.5 730.3,987.3 731.7,987.4 733.1,988.0 734.5,989.3 735.9,990.6 737.3,991.3 738.7,991.7 740.1,992.0 741.5,992.2 742.9,992.8 744.3,993.2 745.7,993.2 747.2,993.7 748.6,994.4 750.0,994.7 751.4,995.4 752.9,996.0 754.3,996.6 755.8,997.0 757.2,997.5 758.6,997.6 760.1,997.6 761.5,997.9 763.0,998.3 764.4,999.4 765.9,1000.2 767.4,1000.5 768.8,1000.8 770.3,1001.1 771.8,1001.0 773.2,1001.4 774.7,1001.7 776.2,1001.9 777.6,1002.1 779.1,1002.2 780.6,1002.6 782.1,1002.9 783.5,1002.9 785.0,1003.4 786.5,1004.2 788.0,1004.4 789.5,1004.4 791.0,1004.7 792.4,1004.8 793.9,1004.9 795.4,1005.1 796.9,1005.5 798.4,1005.5 799.9,1005.9 801.4,1006.3 802.9,1006.4 804.4,1006.3 805.8,1006.7 807.3,1007.2 808.8,1007.4 810.3,1007.1 811.8,1006.9 813.3,1007.1 814.8,1007.2 816.3,1007.1 817.8,1006.6 819.3,1006.3 820.8,1006.7 822.3,1007.6 823.8,1008.3 825.3,1008.2 826.8,1008.2 828.2,1008.7 829.7,1009.7 831.2,1010.8 832.7,1010.6 834.2,1009.6 835.7,1008.9 837.2,1009.2 838.7,1009.9 840.2,1010.8 841.7,1011.3 843.2,1010.4 844.7,1009.5 846.2,1009.7 847.7,1010.2 849.2,1011.3 850.7,1011.9 852.1,1011.4 853.6,1010.9 855.1,1011.5 856.6,1012.1 858.1,1011.7 859.6,1011.7 861.1,1012.4 862.6,1012.9 864.1,1013.0 865.6,1013.1 867.1,1013.1 868.6,1013.0 870.0,1013.2 871.5,1013.3 873.0,1013.3 874.5,1013.7 876.0,1014.3 877.5,1014.6 879.0,1014.4 880.5,1013.8 882.0,1013.8 883.5,1014.6 885.0,1015.0 886.5,1015.0 888.0,1014.7 889.4,1014.8 890.9,1015.5 892.4,1016.1 893.9,1016.7 895.4,1017.4 896.9,1017.6 898.4,1017.1 899.9,1015.8 901.4,1015.1 902.9,1015.5 904.4,1015.8 905.9,1016.3 907.4,1016.9 908.9,1017.1 910.4,1018.3 911.8,1019.6 913.3,1020.4 914.8,1020.3 916.3,1019.8 917.8,1018.6 919.3,1018.4 920.8,1018.7 922.3,1018.7 923.8,1019.2 925.3,1018.8 926.8,1018.7 928.3,1019.7 929.8,1020.2 931.3,1020.4 932.8,1019.5 934.3,1019.2 935.8,1019.8 937.3,1019.8 938.8,1019.5 940.3,1020.2 941.8,1020.8 943.2,1020.6 944.7,1019.9 946.2,1020.1 947.7,1021.1 949.2,1021.8 950.7,1021.6 952.2,1021.3 953.7,1021.7 955.2,1022.3 956.7,1021.8 958.2,1021.3 959.7,1021.4 961.2,1022.7 962.7,1022.6 964.2,1021.9 965.7,1022.9 967.2,1024.0 968.7,1024.0 970.2,1023.6 971.7,1023.4 973.2,1022.9 974.7,1022.8 976.2,1023.0 977.7,1023.1 979.2,1023.4 980.7,1024.2 982.2,1023.8 983.7,1023.1 985.2,1023.6 986.7,1024.3 988.2,1024.8 989.7,1024.9 991.2,1024.3 992.7,1024.2 994.2,1025.1 995.7,1025.3 997.2,1024.0 998.7,1023.2 1000.1,1023.8 1001.6,1024.3 1003.1,1024.4 1004.6,1024.7 1006.1,1025.0 1007.6,1025.3 1009.1,1024.6 1010.6,1024.6 1012.1,1025.7 1013.6,1026.6 1015.1,1026.6 1016.6,1025.9 1018.1,1026.2 1019.6,1027.0 1021.1,1027.1 1022.6,1025.8 1024.1,1025.4 1025.6,1026.3 1027.1,1027.1 1028.6,1027.6 1030.1,1027.4 1031.6,1026.9 1033.1,1026.6 1034.6,1027.4 1036.1,1027.9 1037.6,1027.0 1039.1,1026.6 1040.6,1027.3 1042.1,1027.4 1043.6,1027.2 1045.1,1027.3 1046.6,1027.7 1048.1,1027.2 1049.6,1027.1 1051.1,1027.3 1052.6,1026.7 1054.1,1026.2 1055.6,1026.9 1057.1,1027.3 1058.6,1027.7 1060.1,1027.8 1061.6,1027.6 1063.1,1027.2 1064.6,1027.3 1066.1,1028.2 1067.6,1029.2 1069.1,1029.7 1070.6,1029.3 1072.1,1029.1 1073.6,1030.5 1075.1,1031.4 1076.6,1030.4 1078.1,1028.8 1079.6,1028.1 1081.1,1028.1 1082.6,1028.2 1084.1,1029.0 1085.6,1028.9 1087.1,1028.7 1088.6,1028.6 1090.1,1027.6 1091.6,1027.3 1093.1,1028.7 1094.6,1029.9 1096.1,1029.7 1097.6,1029.2 1099.1,1028.5 1100.6,1029.3 1102.1,1030.8 1103.6,1030.8 1105.1,1029.1 1106.6,1028.8 1108.1,1029.2 1109.6,1029.6 1111.1,1029.7 1112.6,1029.6 1114.1,1029.3 1115.6,1029.7 1117.1,1031.0 1118.6,1031.9 1120.1,1031.3 1121.6,1030.6 1123.1,1030.7 1124.7,1030.6 1126.2,1028.5 1127.7,1027.7 1129.2,1029.1 1130.7,1031.0 1132.2,1032.0 1133.7,1032.1 1135.2,1031.8 1136.7,1031.1 1138.2,1030.1 1139.7,1029.9 1141.2,1030.4 1142.7,1030.5 1144.2,1031.2 1145.7,1031.5 1147.2,1030.7 1148.7,1030.3 1150.2,1030.7 1151.7,1031.5 1153.2,1031.3 1154.7,1031.0 1156.2,1031.9 1157.7,1032.9 1159.2,1032.4 1160.7,1031.5 1162.2,1030.7 1163.7,1030.4 1165.2,1031.0 1166.7,1031.4 1168.2,1031.8 1169.7,1032.3 1171.2,1031.9 1172.7,1031.6 1174.2,1031.8 1175.7,1031.4 1177.2,1030.6 1178.7,1031.7 1180.2,1032.4 1181.7,1031.6 1183.2,1031.4 1184.7,1031.0 1186.2,1030.9 1187.7,1031.4 1189.2,1030.8 1190.7,1029.8 1192.2,1030.8 1193.7,1031.9 1195.2,1031.4 1196.7,1030.9 1198.2,1031.2 1199.7,1031.7 1201.2,1032.0 1202.7,1031.2 1204.2,1031.0 1205.7,1032.5 1207.2,1033.6 1208.7,1033.7 1210.2,1033.0 1211.7,1031.4 1213.2,1030.4 1214.7,1030.8 1216.2,1031.0 1217.7,1030.6 1219.2,1031.5 1220.7,1032.5 1222.2,1033.1 1223.7,1034.2 1225.2,1033.4 1226.7,1031.3 1228.2,1030.6 1229.7,1031.6 1231.2,1032.9 1232.7,1033.0 1234.2,1032.5 1235.7,1032.9 1237.2,1033.5 1238.7,1032.6 1240.2,1030.9 1241.8,1030.3 1243.3,1030.4 1244.8,1030.9 1246.3,1032.2 1247.8,1032.0 1249.3,1031.5 1250.8,1031.8 1252.3,1032.9 1253.8,1033.8 1255.3,1034.2 1256.8,1034.0 1258.3,1033.6 1259.8,1035.1 1261.3,1035.6 1262.8,1033.6 1264.3,1032.9 1265.8,1033.8 1267.3,1034.1 1268.8,1033.1 1270.3,1033.1 1271.8,1034.0 1273.3,1032.1 1274.8,1030.7 1276.3,1032.7 1277.8,1035.0 1279.3,1036.3 1280.8,1037.1 1282.3,1036.6 1283.8,1033.6 1285.3,1031.5 1286.8,1032.0 1288.3,1033.5 1289.8,1032.4 1291.3,1030.4 1292.8,1030.3 1294.3,1031.9 1295.8,1032.7 1297.3,1032.7 1298.8,1032.1 1300.3,1032.3 1301.8,1033.1 1303.3,1033.5 1304.8,1033.6 1306.3,1033.3 1307.8,1033.1 1309.3,1033.3 1310.8,1033.2 1312.3,1033.5 1313.8,1033.5 1315.3,1033.0 1316.8,1033.1 1318.3,1033.7 1319.8,1034.1 1321.3,1034.1 1322.8,1034.0 1324.3,1033.8 1325.8,1033.4 1327.3,1033.1 1328.8,1031.9 1330.3,1031.3 1331.8,1031.8 1333.3,1031.6 1334.8,1033.1 1336.3,1035.0 1337.8,1034.4 1339.3,1033.4 1340.9,1033.8 1342.4,1033.6 1343.9,1032.8 1345.4,1032.7 1346.9,1032.7 1348.4,1033.0 1349.9,1032.9 1351.4,1032.8 1352.9,1034.6 1354.4,1035.7 1355.9,1034.0 1357.4,1032.6 1358.9,1033.3 1360.4,1034.3 1361.9,1034.2 1363.4,1035.1 1364.9,1035.7 1366.4,1034.2 1367.9,1033.3 1369.4,1033.0 1370.9,1033.1 1372.4,1033.3 1373.9,1033.3 1375.4,1034.0 1376.9,1034.8 1378.4,1035.5 1379.9,1035.4 1381.4,1035.4 1382.9,1035.5 1384.4,1034.8 1385.9,1034.3 1387.4,1034.3 1388.9,1034.7 1390.4,1034.4 1391.9,1034.3 1393.4,1033.8 1394.9,1033.3 1396.4,1032.6 1397.9,1032.3 1399.4,1033.0 1400.9,1034.3 1402.4,1035.2 1403.9,1035.4 1405.4,1035.0 1406.9,1034.8 1408.4,1035.6 1409.9,1035.9 1411.4,1034.5 1412.9,1034.0 1414.4,1035.6 1415.9,1036.6 1417.4,1035.2 1418.9,1033.6 1420.4,1032.8 1421.9,1032.6 1423.4,1032.7 1424.9,1033.7 1426.4,1035.7 1427.9,1036.4 1429.4,1035.6 1430.9,1035.3 1432.4,1035.6 1433.9,1035.3 1435.4,1035.2 1436.9,1035.5 1438.4,1036.0 1439.9,1037.9 1441.4,1038.8 1443.0,1036.8 1444.5,1035.0 1446.0,1034.0 1447.5,1034.2 1449.0,1035.0 1450.5,1035.2 1452.0,1034.5 1453.5,1034.0 1455.0,1034.6 1456.5,1034.9 1458.0,1035.2 1459.5,1035.0 1461.0,1034.8 1462.5,1034.0 1464.0,1033.7 1465.5,1034.9 1467.0,1035.1 1468.5,1035.5 1470.0,1035.6 1471.5,1034.5 1473.0,1034.0 1474.5,1034.7 1476.0,1034.7 1477.5,1035.2 1479.0,1035.5 1480.5,1034.3 1482.0,1033.3 1483.5,1034.2 1485.0,1035.3 1486.5,1035.4 1488.0,1035.3 1489.5,1033.9 1491.0,1033.0 1492.5,1033.0 1494.0,1034.7 1495.5,1037.0 1497.0,1037.0 1498.5,1035.8 1500.0,1035.8 1501.5,1036.7 1503.0,1036.5" fill="none" stroke="#ff00ff" stroke-width="9.5" stroke-linejoin="round" stroke-linecap="round"/>
<path d="M317.9,30.1L317.9,31.3 318.0,32.6 318.0,34.1 318.0,35.9 318.0,37.7 318.1,39.2 318.1,40.7 318.1,42.2 318.1,43.7 318.1,45.3 318.2,46.7 318.2,48.2 318.2,49.9 318.2,51.2 318.2,52.6 318.3,54.0 318.3,55.4 318.3,56.8 318.3,58.5 318.3,60.2 318.3,61.7 318.4,63.1 318.4,64.6 318.4,66.2 318.4,67.6 318.4,69.1 318.5,70.4 318.5,72.0 318.5,73.6 318.5,75.1 318.5,76.6 318.5,77.9 318.6,79.4 318.6,81.0 318.6,82.6 318.6,84.2 318.6,85.6 318.6,87.1 318.7,88.7 318.7,90.2 318.7,91.8 318.7,93.2 318.7,94.5 318.7,96.0 318.8,97.6 318.8,99.2 318.8,100.9 318.8,102.3 318.8,103.7 318.8,105.1 318.9,106.6 318.9,108.2 318.9,109.7 318.9,111.1 318.9,112.7 318.9,114.1 319.0,115.4 319.0,116.9 319.0,118.5 319.0,119.9 319.0,121.4 319.0,123.1 319.1,124.7 319.1,126.1 319.1,127.6 319.1,129.0 319.1,130.5 319.1,132.1 319.2,133.7 319.2,135.3 319.2,136.7 319.2,138.1 319.2,139.5 319.2,141.0 319.3,142.6 319.3,144.2 319.3,145.6 319.3,147.2 319.3,148.7 319.3,150.3 319.4,151.8 319.4,153.0 319.4,154.3 319.4,155.8 319.4,157.3 319.4,158.9 319.5,160.6 319.5,162.3 319.5,163.7 319.5,165.0 319.5,166.3 319.5,167.8 319.6,169.4 319.6,171.1 319.6,172.6 319.6,174.1 319.6,175.6 319.6,177.2 319.7,178.8 319.7,180.3 319.7,181.7 319.7,183.2 319.7,184.8 319.8,186.4 319.8,187.9 319.8,189.3 319.8,190.7 319.8,192.0 319.9,193.5 319.9,195.1 319.9,196.5 319.9,198.0 319.9,199.7 320.0,201.1 320.0,202.6 320.0,204.2 320.0,205.8 320.0,207.3 320.1,208.8 320.1,210.3 320.1,211.9 320.1,213.4 320.1,214.9 320.2,216.3 320.2,217.7 320.2,219.3 320.2,220.8 320.3,222.2 320.3,223.7 320.3,225.3 320.3,226.8 320.3,228.1 320.4,229.5 320.4,231.1 320.4,232.7 320.4,234.2 320.5,235.5 320.5,237.0 320.5,238.6 320.5,240.3 320.6,241.8 320.6,243.3 320.6,244.8 320.6,246.2 320.7,247.6 320.7,249.0 320.7,250.6 320.7,252.3 320.8,253.8 320.8,255.1 320.8,256.6 320.8,258.1 320.9,259.6 320.9,261.2 320.9,262.8 321.0,264.3 321.0,265.6 321.0,267.0 321.0,268.5 321.1,270.1 321.1,271.9 321.1,273.5 321.2,274.8 321.2,276.2 321.2,277.7 321.3,279.2 321.3,280.7 321.3,282.2 321.4,283.7 321.4,285.4 321.4,287.0 321.4,288.5 321.5,289.7 321.5,291.0 321.5,292.5 321.6,294.1 321.6,295.7 321.7,297.0 321.7,298.3 321.7,299.9 321.8,301.7 321.8,303.5 321.8,305.0 321.9,306.3 321.9,307.6 321.9,309.0 322.0,310.4 322.0,312.0 322.1,313.7 322.1,315.3 322.1,316.8 322.2,318.4 322.2,320.0 322.3,321.5 322.3,322.7 322.3,324.1 322.4,325.7 322.4,327.5 322.5,329.1 322.5,330.5 322.5,332.1 322.6,333.3 322.6,334.4 322.7,335.9 322.7,337.6 322.8,339.2 322.8,340.7 322.9,342.4 322.9,344.0 322.9,345.5 323.0,347.1 323.0,348.6 323.1,350.0 323.1,351.3 323.2,352.9 323.2,354.6 323.3,356.1 323.3,357.3 323.4,358.6 323.4,360.2 323.5,361.8 323.5,363.3 323.6,364.9 323.6,366.5 323.7,367.9 323.7,369.2 323.8,370.6 323.9,372.2 323.9,373.8 324.0,375.5 324.0,377.0 324.1,378.5 324.1,380.1 324.2,381.6 324.2,383.1 324.3,384.5 324.4,385.8 324.4,387.2 324.5,388.7 324.5,390.1 324.6,391.7 324.7,393.4 324.7,394.9 324.8,396.4 324.8,398.0 324.9,399.4 325.0,400.9 325.0,402.5 325.1,404.0 325.2,405.3 325.2,406.7 325.3,408.4 325.4,410.0 325.4,411.5 325.5,413.0 325.6,414.6 325.6,416.3 325.7,417.7 325.8,419.0 325.8,420.3 325.9,421.7 326.0,423.2 326.1,424.8 326.1,426.3 326.2,427.6 326.3,429.0 326.4,430.7 326.4,432.2 326.5,433.7 326.6,435.1 326.7,436.6 326.7,438.2 326.8,439.8 326.9,441.5 327.0,443.1 327.0,444.5 327.1,446.0 327.2,447.7 327.3,449.2 327.4,450.5 327.5,451.9 327.5,453.2 327.6,454.6 327.7,456.3 327.8,458.0 327.9,459.5 328.0,460.9 328.1,462.3 328.1,463.8 328.2,465.5 328.3,467.2 328.4,468.7 328.5,470.0 328.6,471.6 328.7,472.9 328.8,474.2 328.9,476.0 329.0,477.8 329.1,479.2 329.2,480.5 329.3,481.7 329.5,483.0 329.6,484.6 329.7,486.2 329.9,487.6 330.1,489.2 330.3,490.9 330.4,492.5 330.7,493.6 330.9,494.7 331.1,496.1 331.3,497.8 331.6,499.6 331.9,501.1 332.2,502.6 332.5,504.2 332.8,505.8 333.1,507.3 333.4,508.4 333.8,509.5 334.2,511.0 334.6,512.6 335.1,514.2 336.1,515.1 337.0,514.0 337.6,512.5 338.1,510.9 338.6,509.7 339.0,508.5 339.5,507.0 339.9,505.5 340.4,504.1 340.9,502.5 341.4,501.2 341.8,499.9 342.3,498.4 342.8,497.0 343.3,495.4 343.9,493.7 344.4,492.6 344.9,492.0 345.4,490.7 346.0,489.0 346.5,487.7 347.1,486.5 347.7,484.8 348.2,482.8 348.8,480.9 349.4,479.6 349.9,478.8 350.5,478.1 351.1,476.8 351.7,475.0 352.3,473.5 352.9,472.7 353.5,471.4 354.1,469.4 354.8,467.9 355.4,466.6 356.0,465.0 356.7,463.6 357.3,462.2 358.0,460.7 358.7,459.2 359.4,458.3 360.1,457.6 360.8,456.5 361.5,455.1 362.3,453.6 363.0,452.5 363.8,451.4 364.5,449.7 365.3,448.4 366.1,447.2 366.9,445.5 367.7,443.6 368.5,442.3 369.4,441.3 370.2,440.2 371.1,439.2 371.9,438.5 372.8,437.4 373.7,435.9 374.6,434.6 375.6,433.9 376.5,433.2 377.5,432.0 378.5,430.1 379.5,428.9 380.5,427.9 381.6,426.5 382.7,425.5 383.9,424.7 385.0,423.5 386.2,422.3 387.5,421.4 388.8,420.7 390.1,420.5 391.5,419.9 392.9,419.3 394.3,419.0 395.8,418.8 397.3,418.8 398.8,418.8 400.3,418.8 401.8,418.8 403.2,418.9 404.6,419.2 405.9,419.9 407.2,420.6 408.5,421.4 409.7,422.8 410.9,424.4 412.1,425.5 413.2,426.2 414.3,427.4 415.4,429.1 416.5,430.3 417.6,430.3 418.6,430.9 419.7,432.1 420.7,433.8 421.7,435.0 422.7,436.1 423.7,437.2 424.6,437.7 425.6,437.6 426.5,439.0 427.5,440.8 428.4,442.3 429.3,444.2 430.2,445.6 431.1,446.0 431.9,447.4 432.8,449.6 433.6,451.6 434.4,452.6 435.3,453.2 436.1,453.7 436.9,455.0 437.7,456.3 438.4,457.6 439.2,459.0 440.0,460.2 440.7,461.9 441.5,464.0 442.2,465.3 442.9,466.5 443.7,467.1 444.4,467.7 445.1,468.7 445.8,470.6 446.5,472.7 447.2,473.4 447.9,474.2 448.5,476.1 449.2,477.2 449.9,478.3 450.5,479.5 451.2,481.0 451.8,483.5 452.5,485.2 453.1,486.0 453.7,487.0 454.3,488.1 455.0,489.1 455.6,490.3 456.2,491.4 456.8,493.1 457.4,495.2 458.0,497.0 458.6,498.1 459.2,499.9 459.8,501.4 460.4,502.3 461.0,503.8 461.5,506.0 462.1,507.5 462.7,508.0 463.3,509.1 463.8,510.9 464.4,512.5 465.0,513.3 465.6,514.7 466.1,516.1 466.7,516.9 467.3,518.6 467.8,520.5 468.4,521.5 468.9,522.3 469.5,523.5 470.1,525.1 470.6,526.4 471.2,528.0 471.7,529.8 472.3,531.3 472.8,533.2 473.4,534.8 473.9,536.2 474.5,537.4 475.0,537.9 475.6,538.8 476.1,541.1 476.7,542.8 477.2,543.6 477.8,545.0 478.3,546.8 478.9,547.9 479.4,549.1 480.0,551.1 480.5,552.9 481.0,553.2 481.6,553.6 482.1,555.3 482.6,556.7 483.2,558.0 483.7,560.0 484.3,561.9 484.8,563.6 485.3,565.1 485.9,566.9 486.4,568.3 486.9,569.5 487.4,571.2 488.0,572.9 488.5,573.6 489.0,574.2 489.6,575.8 490.1,577.7 490.6,579.4 491.1,580.7 491.7,582.1 492.2,583.2 492.7,584.4 493.2,585.7 493.8,587.1 494.3,588.6 494.8,589.9 495.3,590.9 495.8,592.2 496.4,593.9 496.9,595.6 497.4,597.0 497.9,598.7 498.4,600.5 498.9,601.9 499.5,602.8 500.0,604.1 500.5,604.5 501.0,605.6 501.5,607.7 502.0,609.2 502.5,610.6 503.1,611.8 503.6,612.9 504.1,614.3 504.6,616.3 505.1,618.3 505.6,619.9 506.1,621.2 506.6,622.5 507.1,623.7 507.7,624.6 508.2,626.5 508.7,628.9 509.2,630.8 509.7,632.1 510.2,633.4 510.7,634.4 511.2,634.9 511.7,635.5 512.2,637.2 512.7,639.4 513.2,641.2 513.7,642.3 514.2,643.5 514.8,645.0 515.3,646.2 515.8,647.8 516.3,649.4 516.8,650.6 517.3,651.6 517.8,652.5 518.3,654.0 518.8,656.1 519.3,658.0 519.8,658.9 520.3,660.0 520.8,661.5 521.3,663.2 521.8,664.4 522.3,665.9 522.8,667.5 523.3,668.9 523.8,670.2 524.4,672.0 524.9,673.8 525.4,674.7 525.9,675.4 526.4,676.5 526.9,678.5 527.4,680.2 527.9,681.8 528.4,683.1 528.9,684.2 529.4,685.4 529.9,687.2 530.4,689.6 530.9,691.2 531.4,692.6 532.0,694.1 532.5,695.5 533.0,696.9 533.5,698.4 534.0,699.6 534.5,700.1 535.0,701.3 535.5,702.7 536.0,703.8 536.6,704.7 537.1,706.5 537.6,708.5 538.1,709.8 538.6,711.3 539.1,712.6 539.7,713.8 540.2,715.0 540.7,716.3 541.2,717.9 541.8,719.5 542.3,720.9 542.8,722.5 543.3,724.0 543.9,725.7 544.4,727.4 544.9,728.5 545.5,729.6 546.0,731.2 546.5,732.8 547.1,734.3 547.6,736.0 548.2,737.1 548.7,738.1 549.2,739.4 549.8,741.0 550.3,742.8 550.9,744.3 551.4,745.4 552.0,746.4 552.5,747.6 553.1,749.0 553.7,751.0 554.2,752.6 554.8,753.9 555.3,755.1 555.9,756.5 556.5,758.2 557.0,759.5 557.6,760.9 558.2,762.5 558.8,763.6 559.3,764.8 559.9,766.0 560.5,767.3 561.1,768.8 561.7,770.5 562.3,772.4 562.9,773.8 563.5,775.1 564.1,776.7 564.7,777.7 565.3,778.8 565.9,780.1 566.5,781.4 567.1,782.9 567.7,783.9 568.3,785.2 568.9,786.9 569.6,788.1 570.2,789.2 570.8,790.5 571.4,792.0 572.1,793.2 572.7,794.3 573.3,795.9 574.0,797.8 574.6,799.8 575.3,801.5 575.9,802.5 576.6,803.7 577.2,805.1 577.9,806.1 578.6,806.7 579.2,807.8 579.9,809.2 580.6,810.6 581.2,812.2 581.9,813.7 582.6,815.1 583.3,816.8 584.0,818.4 584.7,819.6 585.4,820.7 586.1,821.9 586.8,823.1 587.5,824.2 588.2,825.5 588.9,827.3 589.6,828.9 590.3,830.0 591.1,830.9 591.8,832.0 592.5,833.5 593.3,835.0 594.0,836.3 594.7,837.4 595.5,838.4 596.2,839.6 597.0,841.4 597.8,843.1 598.5,844.0 599.3,844.8 600.1,846.2 600.8,848.0 601.6,849.8 602.4,850.9 603.1,851.6 603.9,852.6 604.7,854.1 605.5,855.5 606.3,856.8 607.0,858.3 607.8,859.6 608.6,860.8 609.4,862.1 610.2,863.5 610.9,864.8 611.7,866.2 612.5,867.7 613.3,869.0 614.0,870.1 614.8,870.9 615.6,871.9 616.3,873.0 617.1,874.4 617.9,876.3 618.6,878.2 619.4,879.4 620.1,880.2 620.9,881.0 621.6,882.3 622.4,883.7 623.1,885.4 623.8,886.9 624.6,888.1 625.3,889.4 626.0,890.5 626.8,891.7 627.5,893.0 628.3,894.3 629.1,895.3 629.8,896.2 630.6,897.8 631.4,899.5 632.2,900.9 633.0,901.7 633.8,903.2 634.6,905.2 635.4,906.9 636.3,907.9 637.2,908.9 638.0,910.0 638.9,910.9 639.8,911.9 640.8,913.0 641.7,914.4 642.6,915.6 643.6,916.1 644.6,917.2 645.6,919.0 646.6,920.4 647.6,921.5 648.6,922.4 649.6,923.4 650.7,924.3 651.7,925.2 652.8,926.3 653.9,927.5 654.9,928.6 656.0,929.8 657.1,931.2 658.2,932.0 659.3,932.5 660.5,933.2 661.6,934.1 662.7,934.9 663.8,935.9 665.0,936.9 666.1,938.0 667.3,938.9 668.4,939.7 669.6,941.4 670.8,942.6 671.9,943.2 673.1,944.1 674.3,945.3 675.5,946.5 676.7,947.5 677.8,948.0 679.0,948.3 680.2,949.2 681.4,950.5 682.6,951.7 683.8,952.5 685.0,953.7 686.2,954.7 687.4,955.4 688.6,956.1 689.8,956.3 691.0,957.0 692.3,958.5 693.5,959.8 694.7,960.7 695.9,961.2 697.1,961.9 698.3,963.1 699.5,964.2 700.8,965.2 702.0,965.8 703.2,966.5 704.4,967.7 705.7,968.8 706.9,969.5 708.2,969.8 709.4,970.6 710.7,971.8 711.9,972.6 713.2,973.5 714.4,974.7 715.7,975.6 717.0,976.2 718.3,976.8 719.6,977.6 720.9,978.0 722.1,978.7 723.5,979.4 724.8,979.8 726.1,980.7 727.4,981.8 728.7,982.4 730.0,983.1 731.4,984.3 732.7,985.0 734.1,985.6 735.4,986.2 736.8,986.2 738.1,986.6 739.5,987.5 740.8,988.6 742.2,989.5 743.6,990.5 744.9,991.0 746.3,991.4 747.7,991.8 749.1,992.0 750.5,992.1 751.9,992.7 753.3,993.4 754.7,993.9 756.0,994.6 757.4,995.1 758.9,995.7 760.3,996.8 761.7,998.1 763.1,999.2 764.5,999.3 765.9,998.9 767.3,999.1 768.7,1000.2 770.2,1001.1 771.6,1001.2 773.0,1001.2 774.4,1001.6 775.9,1002.2 777.3,1003.1 778.7,1003.6 780.2,1003.7 781.6,1004.1 783.0,1005.0 784.5,1005.4 785.9,1005.7 787.4,1006.2 788.8,1006.7 790.3,1007.0 791.7,1006.8 793.2,1006.9 794.6,1006.9 796.1,1006.6 797.5,1007.4 799.0,1008.5 800.4,1009.3 801.9,1009.6 803.3,1009.5 804.8,1009.5 806.3,1010.0 807.7,1010.6 809.2,1011.1 810.6,1011.4 812.1,1011.6 813.6,1012.1 815.0,1012.4 816.5,1013.0 818.0,1013.6 819.4,1014.1 820.9,1014.4 822.4,1014.6 823.9,1014.3 825.3,1014.2 826.8,1014.6 828.3,1014.7 829.8,1015.4 831.2,1015.9 832.7,1016.2 834.2,1016.5 835.7,1017.0 837.2,1017.3 838.6,1016.7 840.1,1016.1 841.6,1017.0 843.1,1018.2 844.6,1018.8 846.0,1018.7 847.5,1018.4 849.0,1018.5 850.5,1019.1 852.0,1018.7 853.5,1017.9 855.0,1018.3 856.5,1019.8 857.9,1019.7 859.4,1019.4 860.9,1020.2 862.4,1020.4 863.9,1020.1 865.4,1020.7 866.9,1021.3 868.4,1021.9 869.9,1022.2 871.3,1022.3 872.8,1022.7 874.3,1022.2 875.8,1022.0 877.3,1022.3 878.8,1022.1 880.3,1022.2 881.8,1022.5 883.3,1022.0 884.8,1021.9 886.3,1022.6 887.8,1022.9 889.3,1023.1 890.8,1023.3 892.3,1023.2 893.8,1023.4 895.3,1023.3 896.7,1023.4 898.2,1023.5 899.7,1024.0 901.2,1024.1 902.7,1024.0 904.2,1024.3 905.7,1024.6 907.2,1024.8 908.7,1024.7 910.2,1024.7 911.7,1024.6 913.2,1024.3 914.7,1024.2 916.2,1024.4 917.7,1025.1 919.2,1025.5 920.7,1025.2 922.2,1024.6 923.7,1025.4 925.2,1026.8 926.7,1027.0 928.2,1026.3 929.7,1026.2 931.2,1026.7 932.7,1027.4 934.2,1027.7 935.7,1027.2 937.2,1026.9 938.7,1026.9 940.2,1027.5 941.7,1027.8 943.2,1027.2 944.7,1026.8 946.2,1026.0 947.7,1025.5 949.2,1025.6 950.7,1026.9 952.2,1028.6 953.7,1029.2 955.2,1028.7 956.7,1028.3 958.2,1028.0 959.7,1026.9 961.2,1026.3 962.7,1026.6 964.2,1026.7 965.7,1026.5 967.2,1027.5 968.7,1028.8 970.2,1028.5 971.7,1027.9 973.2,1028.1 974.7,1028.9 976.2,1029.2 977.7,1028.8 979.2,1027.8 980.7,1026.6 982.2,1026.8 983.7,1027.7 985.2,1028.2 986.7,1028.5 988.2,1029.3 989.7,1030.5 991.2,1030.3 992.7,1029.3 994.2,1029.7 995.7,1029.9 997.2,1029.6 998.7,1029.6 1000.2,1030.4 1001.7,1030.9 1003.2,1030.0 1004.7,1029.4 1006.2,1029.0 1007.7,1028.6 1009.2,1029.0 1010.7,1029.5 1012.2,1030.3 1013.7,1031.3 1015.2,1031.7 1016.7,1030.9 1018.2,1030.7 1019.7,1031.7 1021.2,1032.4 1022.7,1031.9 1024.2,1031.6 1025.7,1031.6 1027.2,1031.2 1028.7,1030.4 1030.2,1029.9 1031.7,1030.0 1033.2,1030.6 1034.7,1030.8 1036.2,1030.4 1037.7,1030.4 1039.2,1030.9 1040.7,1031.2 1042.2,1031.1 1043.7,1031.4 1045.2,1032.4 1046.7,1032.0 1048.2,1031.2 1049.7,1031.2 1051.2,1032.2 1052.7,1032.8 1054.2,1032.3 1055.7,1032.0 1057.2,1032.8 1058.7,1034.0 1060.2,1033.4 1061.7,1032.4 1063.2,1032.7 1064.7,1033.3 1066.2,1033.1 1067.7,1032.9 1069.2,1032.7 1070.7,1032.8 1072.2,1033.7 1073.7,1034.4 1075.2,1033.7 1076.7,1032.5 1078.2,1032.0 1079.7,1032.1 1081.2,1032.0 1082.7,1032.3 1084.2,1033.4 1085.7,1034.1 1087.2,1034.4 1088.7,1034.0 1090.2,1033.7 1091.7,1034.2 1093.2,1034.7 1094.7,1034.4 1096.2,1033.1 1097.7,1033.0 1099.2,1034.2 1100.7,1035.1 1102.2,1034.2 1103.7,1032.7 1105.2,1032.6 1106.7,1033.0 1108.2,1032.4 1109.7,1032.5 1111.2,1033.3 1112.7,1033.8 1114.2,1034.5 1115.7,1034.9 1117.2,1034.2 1118.7,1033.9 1120.2,1035.2 1121.7,1035.2 1123.2,1033.9 1124.7,1033.2 1126.2,1033.6 1127.7,1034.8 1129.2,1034.8 1130.7,1035.1 1132.2,1035.7 1133.7,1036.0 1135.2,1035.2 1136.7,1034.9 1138.2,1035.5 1139.7,1035.6 1141.2,1034.7 1142.7,1034.0 1144.2,1034.1 1145.7,1035.2 1147.2,1035.5 1148.7,1036.1 1150.2,1036.7 1151.7,1036.6 1153.2,1036.0 1154.7,1035.0 1156.2,1034.8 1157.7,1034.6 1159.2,1034.7 1160.7,1035.7 1162.2,1037.3 1163.7,1037.1 1165.2,1036.5 1166.7,1036.3 1168.2,1036.9 1169.7,1036.2 1171.2,1035.4 1172.7,1034.5 1174.2,1033.3 1175.7,1033.3 1177.2,1034.4 1178.7,1034.9 1180.2,1036.1 1181.7,1037.5 1183.2,1037.6 1184.7,1037.9 1186.2,1036.8 1187.7,1035.7 1189.2,1036.7 1190.7,1037.6 1192.2,1037.0 1193.7,1035.6 1195.2,1035.5 1196.7,1037.5 1198.2,1039.1 1199.7,1038.6 1201.2,1036.9 1202.7,1036.3 1204.2,1037.1 1205.7,1037.8 1207.2,1037.6 1208.7,1037.0 1210.2,1035.4 1211.7,1033.7 1213.2,1034.2 1214.7,1035.4 1216.2,1036.2 1217.7,1037.5 1219.2,1037.3 1220.7,1037.7 1222.2,1038.4 1223.7,1037.8 1225.2,1036.5 1226.7,1037.0 1228.2,1038.2 1229.7,1038.0 1231.2,1036.7 1232.7,1035.4 1234.2,1036.3 1235.8,1037.0 1237.3,1036.1 1238.8,1035.0 1240.3,1035.4 1241.8,1036.1 1243.3,1036.2 1244.8,1036.6 1246.3,1038.1 1247.8,1038.5 1249.3,1038.1 1250.8,1038.0 1252.3,1037.2 1253.8,1038.0 1255.3,1039.2 1256.8,1038.7 1258.3,1037.9 1259.8,1037.8 1261.3,1037.3 1262.8,1036.6 1264.3,1036.5 1265.8,1037.0 1267.3,1037.4 1268.8,1037.4 1270.3,1037.2 1271.8,1037.9 1273.3,1038.4 1274.8,1038.3 1276.3,1038.5 1277.8,1037.3 1279.3,1036.3 1280.8,1035.9 1282.3,1035.3 1283.8,1034.9 1285.3,1035.5 1286.8,1036.4 1288.3,1037.4 1289.8,1038.5 1291.3,1038.0 1292.8,1037.1 1294.3,1037.2 1295.8,1038.0 1297.3,1038.3 1298.8,1038.8 1300.3,1039.5 1301.8,1039.4 1303.3,1038.3 1304.8,1038.3 1306.3,1038.4 1307.8,1038.1 1309.3,1038.0 1310.8,1038.7 1312.3,1039.1 1313.8,1038.5 1315.3,1037.9 1316.8,1037.9 1318.3,1036.9 1319.8,1036.7 1321.3,1037.9 1322.8,1037.5 1324.3,1036.4 1325.8,1036.9 1327.3,1038.3 1328.8,1039.0 1330.3,1038.1 1331.8,1036.9 1333.3,1036.2 1334.8,1036.4 1336.3,1037.1 1337.8,1037.7 1339.3,1038.3 1340.8,1038.5 1342.3,1039.0 1343.8,1038.7 1345.3,1038.4 1346.8,1038.4 1348.3,1039.1 1349.8,1039.6 1351.3,1038.4 1352.8,1037.8 1354.3,1038.3 1355.8,1038.6 1357.3,1038.6 1358.8,1039.0 1360.3,1038.1 1361.9,1037.8 1363.4,1038.4 1364.9,1038.4 1366.4,1038.5 1367.9,1040.0 1369.4,1040.9 1370.9,1040.2 1372.4,1040.2 1373.9,1041.2 1375.4,1041.9 1376.9,1040.6 1378.4,1039.5 1379.9,1039.0 1381.4,1039.0 1382.9,1038.6 1384.4,1038.5 1385.9,1039.0 1387.4,1039.6 1388.9,1039.6 1390.4,1039.7 1391.9,1039.8 1393.4,1039.4 1394.9,1038.0 1396.4,1037.9 1397.9,1039.7 1399.4,1040.3 1400.9,1038.5 1402.4,1037.6 1403.9,1039.2 1405.4,1039.7 1406.9,1039.6 1408.4,1040.8 1409.9,1040.8 1411.4,1039.3 1412.9,1039.0 1414.4,1040.1 1415.9,1040.9 1417.4,1041.4 1418.9,1041.5 1420.4,1041.3 1421.9,1039.4 1423.4,1037.9 1424.9,1037.7 1426.4,1037.9 1427.9,1038.3 1429.4,1038.8 1430.9,1040.3 1432.4,1041.6 1433.9,1041.2 1435.4,1039.0 1436.9,1037.7 1438.4,1038.2 1439.9,1038.8 1441.4,1039.1 1442.9,1039.8 1444.4,1040.1 1445.9,1039.5 1447.4,1039.0 1448.9,1039.0 1450.4,1037.5 1451.9,1036.4 1453.4,1038.3 1454.9,1039.9 1456.4,1038.8 1457.9,1037.4 1459.4,1038.4 1460.9,1039.9 1462.4,1039.5 1463.9,1038.4 1465.4,1037.6 1466.9,1038.0 1468.4,1039.0 1469.9,1040.3 1471.4,1040.3 1472.9,1039.2 1474.4,1037.9 1475.9,1038.8 1477.4,1040.7 1478.9,1041.8 1480.4,1041.1 1482.0,1040.7 1483.5,1041.5 1485.0,1040.2 1486.5,1038.7 1488.0,1038.0 1489.5,1037.6 1491.0,1037.8 1492.5,1037.9 1494.0,1037.9 1495.5,1038.1 1497.0,1038.8 1498.5,1039.2 1500.0,1038.3 1501.5,1038.1 1503.0,1039.3" fill="none" stroke="#008000" stroke-width="9.5" stroke-linejoin="round" stroke-linecap="round"/>
<path d="M313.5,29.8L313.5,31.4 313.5,33.0 313.6,34.5 313.6,36.1 313.6,37.6 313.7,39.0 313.7,40.5 313.7,42.1 313.8,43.7 313.8,45.2 313.8,46.6 313.9,48.1 313.9,49.6 313.9,51.2 313.9,52.7 314.0,54.3 314.0,55.8 314.0,57.2 314.1,58.5 314.1,59.8 314.1,61.3 314.1,63.0 314.2,64.7 314.2,66.2 314.2,67.6 314.3,69.0 314.3,70.4 314.3,71.9 314.3,73.3 314.4,75.0 314.4,76.5 314.4,78.1 314.4,79.6 314.5,81.1 314.5,82.6 314.5,84.2 314.5,85.7 314.6,87.1 314.6,88.4 314.6,89.8 314.6,91.3 314.6,93.0 314.7,94.6 314.7,96.1 314.7,97.8 314.7,99.3 314.8,100.8 314.8,102.2 314.8,103.6 314.8,105.2 314.9,106.6 314.9,108.1 314.9,109.7 314.9,111.3 314.9,112.8 315.0,114.2 315.0,115.5 315.0,117.0 315.0,118.5 315.0,120.1 315.1,121.7 315.1,123.3 315.1,124.7 315.1,126.1 315.1,127.8 315.2,129.3 315.2,130.7 315.2,132.0 315.2,133.5 315.3,135.0 315.3,136.4 315.3,138.0 315.3,139.5 315.3,141.2 315.4,142.7 315.4,144.1 315.4,145.5 315.4,147.1 315.4,148.5 315.5,150.1 315.5,151.7 315.5,153.1 315.5,154.5 315.5,156.3 315.6,158.0 315.6,159.5 315.6,161.0 315.6,162.4 315.6,163.9 315.7,165.5 315.7,167.0 315.7,168.3 315.7,169.6 315.7,171.0 315.8,172.5 315.8,174.1 315.8,175.6 315.8,177.2 315.8,178.7 315.9,180.3 315.9,181.9 315.9,183.5 315.9,184.9 316.0,186.4 316.0,187.9 316.0,189.2 316.0,190.5 316.0,191.9 316.1,193.7 316.1,195.4 316.1,196.9 316.1,198.6 316.2,200.0 316.2,201.4 316.2,202.7 316.2,204.1 316.3,205.7 316.3,207.3 316.3,208.7 316.3,210.2 316.4,211.7 316.4,213.2 316.4,214.5 316.4,216.1 316.5,217.7 316.5,219.3 316.5,220.8 316.5,222.2 316.6,223.6 316.6,225.1 316.6,226.8 316.6,228.4 316.7,229.7 316.7,231.1 316.7,232.6 316.8,234.3 316.8,235.8 316.8,237.4 316.8,238.9 316.9,240.1 316.9,241.6 316.9,243.3 317.0,244.8 317.0,246.2 317.0,247.6 317.1,249.1 317.1,250.7 317.1,252.3 317.2,253.9 317.2,255.5 317.2,257.0 317.3,258.4 317.3,259.8 317.3,261.2 317.4,262.5 317.4,263.9 317.4,265.5 317.5,267.2 317.5,268.7 317.5,270.2 317.6,271.9 317.6,273.4 317.6,274.8 317.7,276.2 317.7,277.7 317.8,279.3 317.8,280.9 317.8,282.3 317.9,283.7 317.9,285.2 318.0,286.6 318.0,288.1 318.0,289.7 318.1,291.1 318.1,292.5 318.2,294.1 318.2,295.7 318.3,297.1 318.3,298.6 318.3,300.2 318.4,301.6 318.4,303.2 318.5,304.9 318.5,306.4 318.6,307.9 318.6,309.4 318.7,310.8 318.7,312.1 318.8,313.5 318.8,315.2 318.9,316.8 318.9,318.4 319.0,320.1 319.0,321.6 319.1,322.9 319.1,324.2 319.2,325.8 319.3,327.2 319.3,328.5 319.4,330.1 319.4,331.6 319.5,333.1 319.5,334.9 319.6,336.6 319.7,338.0 319.7,339.3 319.8,340.8 319.8,342.4 319.9,343.8 320.0,345.3 320.0,346.9 320.1,348.4 320.1,349.9 320.2,351.3 320.3,352.9 320.3,354.4 320.4,355.7 320.5,357.1 320.5,358.6 320.6,360.0 320.7,361.2 320.8,362.8 320.8,364.4 320.9,366.0 321.0,367.6 321.0,369.3 321.1,371.0 321.2,372.6 321.3,374.0 321.3,375.7 321.4,377.2 321.5,378.5 321.6,379.7 321.7,381.4 321.7,382.9 321.8,384.3 321.9,385.8 322.0,387.5 322.1,389.1 322.1,390.6 322.2,391.9 322.3,393.3 322.4,394.8 322.5,396.5 322.6,398.0 322.7,399.3 322.8,400.8 322.8,402.5 322.9,404.0 323.0,405.1 323.1,406.5 323.2,408.2 323.3,410.0 323.4,411.6 323.5,412.9 323.6,414.1 323.7,415.6 323.8,417.2 323.9,418.9 324.0,420.6 324.1,422.0 324.2,423.3 324.3,424.8 324.4,426.5 324.5,428.0 324.6,429.3 324.7,430.7 324.8,432.1 324.9,433.5 325.1,435.1 325.2,436.8 325.3,438.2 325.4,439.5 325.5,440.9 325.6,442.7 325.7,444.4 325.9,445.9 326.0,447.1 326.2,448.2 326.3,449.7 326.5,451.4 326.7,453.1 326.9,454.5 327.1,455.9 327.3,457.5 327.5,459.2 327.8,460.7 328.0,462.0 328.3,463.3 328.6,464.5 329.0,466.0 329.4,467.8 329.9,469.7 330.7,471.0 331.8,470.2 332.4,468.8 332.9,467.5 333.4,466.0 333.8,464.3 334.2,463.0 334.6,461.5 335.0,459.8 335.5,458.4 335.9,457.2 336.4,455.9 336.9,454.6 337.4,453.2 337.9,452.0 338.4,450.6 338.9,449.2 339.5,447.8 340.0,446.0 340.5,444.4 341.1,442.9 341.6,441.2 342.1,439.5 342.6,438.3 343.2,437.3 343.7,435.8 344.2,434.4 344.7,433.6 345.2,432.1 345.7,430.3 346.2,428.7 346.7,427.3 347.2,426.0 347.7,424.6 348.3,423.2 348.8,421.8 349.3,420.3 349.8,418.6 350.3,417.2 350.8,415.9 351.3,414.9 351.9,413.8 352.4,412.1 352.9,410.4 353.4,409.4 354.0,407.9 354.5,406.3 355.1,404.9 355.6,403.8 356.2,402.7 356.8,401.2 357.4,399.8 357.9,398.7 358.5,397.1 359.1,394.8 359.7,392.7 360.4,391.0 361.0,390.0 361.6,389.4 362.3,388.5 362.9,387.2 363.6,386.0 364.3,384.9 365.0,384.0 365.7,382.6 366.4,380.9 367.1,379.9 367.9,378.4 368.6,376.5 369.4,375.0 370.2,373.4 371.0,371.8 371.8,370.6 372.6,369.4 373.4,368.3 374.2,367.1 375.1,366.2 376.0,365.4 376.9,364.0 377.7,362.6 378.7,361.7 379.6,360.9 380.5,359.7 381.5,358.2 382.4,357.2 383.5,355.9 384.5,354.8 385.6,354.2 386.7,353.4 387.8,352.2 389.0,350.6 390.3,349.3 391.6,349.2 393.0,349.0 394.4,348.6 395.8,348.6 397.3,348.5 398.8,348.6 400.3,348.2 401.8,347.3 403.3,347.1 404.8,347.6 406.2,348.4 407.7,348.9 409.1,349.0 410.5,349.8 411.8,351.2 413.2,351.8 414.5,352.5 415.8,353.5 417.1,353.3 418.3,353.3 419.5,354.6 420.7,356.0 421.8,357.0 422.9,357.5 424.0,359.1 425.0,361.1 426.0,362.7 427.0,363.8 427.9,364.5 428.8,365.2 429.7,365.9 430.5,367.2 431.3,369.3 432.1,371.1 432.9,371.7 433.6,371.9 434.4,372.8 435.1,374.9 435.7,377.1 436.4,378.1 437.1,378.7 437.7,380.3 438.3,382.0 438.9,383.0 439.5,384.1 440.1,385.4 440.7,387.3 441.3,389.4 441.9,390.4 442.5,391.9 443.1,393.6 443.6,394.5 444.2,395.5 444.8,396.9 445.4,398.4 445.9,399.6 446.5,400.9 447.1,402.4 447.7,404.5 448.2,406.4 448.8,407.4 449.4,408.6 449.9,409.4 450.5,410.1 451.1,411.5 451.6,413.2 452.2,414.6 452.8,416.4 453.3,418.3 453.9,420.0 454.4,421.1 455.0,423.0 455.5,424.8 456.1,425.7 456.7,426.5 457.2,427.9 457.8,429.3 458.3,430.8 458.9,432.4 459.4,433.7 460.0,435.2 460.5,436.8 461.0,437.7 461.6,438.8 462.1,440.1 462.7,440.8 463.2,441.6 463.7,443.5 464.3,445.2 464.8,446.1 465.3,447.5 465.9,449.7 466.4,451.5 466.9,453.3 467.5,455.2 468.0,457.0 468.5,458.3 469.0,459.7 469.6,461.0 470.1,462.0 470.6,463.6 471.1,464.6 471.7,464.8 472.2,466.2 472.7,468.6 473.2,470.6 473.7,471.2 474.2,471.6 474.8,473.0 475.3,475.2 475.8,476.9 476.3,478.1 476.8,479.6 477.3,481.2 477.8,482.6 478.3,483.5 478.8,485.1 479.3,486.9 479.8,487.9 480.3,489.0 480.9,491.1 481.4,493.4 481.9,494.8 482.4,495.8 482.9,496.6 483.3,498.0 483.8,499.8 484.3,501.0 484.8,501.6 485.3,502.7 485.8,505.0 486.3,507.0 486.8,507.9 487.3,508.3 487.8,509.5 488.3,511.3 488.8,513.2 489.3,515.0 489.8,516.1 490.2,517.2 490.7,518.3 491.2,519.9 491.7,522.2 492.2,523.7 492.7,524.7 493.1,525.8 493.6,527.2 494.1,529.1 494.6,530.0 495.1,530.8 495.6,532.6 496.0,534.7 496.5,536.6 497.0,538.3 497.5,539.8 497.9,541.1 498.4,542.2 498.9,543.1 499.4,544.9 499.8,546.7 500.3,548.0 500.8,549.1 501.3,550.1 501.7,551.2 502.2,552.5 502.7,554.5 503.2,557.0 503.6,558.5 504.1,559.2 504.6,560.2 505.0,561.6 505.5,563.3 506.0,565.0 506.4,566.8 506.9,568.0 507.4,568.4 507.8,569.6 508.3,571.5 508.8,573.4 509.2,575.4 509.7,577.0 510.2,577.9 510.6,579.3 511.1,580.7 511.6,582.1 512.0,583.8 512.5,585.3 513.0,586.3 513.4,587.4 513.9,589.2 514.3,590.5 514.8,591.6 515.3,593.3 515.7,594.9 516.2,596.3 516.7,598.1 517.1,599.5 517.6,600.3 518.0,601.4 518.5,602.7 519.0,604.6 519.4,606.3 519.9,607.5 520.3,609.4 520.8,611.0 521.3,612.1 521.7,613.4 522.2,614.9 522.7,616.4 523.1,618.0 523.6,619.8 524.0,621.0 524.5,622.2 525.0,624.2 525.4,626.2 525.9,627.4 526.4,628.0 526.8,628.6 527.3,630.1 527.8,631.8 528.2,633.1 528.7,634.5 529.2,636.4 529.6,637.9 530.1,638.7 530.6,639.9 531.0,641.5 531.5,643.5 532.0,645.0 532.4,646.2 532.9,648.2 533.4,649.7 533.9,650.8 534.3,652.8 534.8,654.4 535.3,655.5 535.7,656.5 536.2,657.6 536.7,659.1 537.2,660.5 537.7,662.2 538.1,663.8 538.6,664.9 539.1,666.2 539.6,668.1 540.1,669.8 540.5,671.2 541.0,672.5 541.5,674.3 542.0,675.7 542.5,676.6 543.0,677.6 543.5,678.5 543.9,680.0 544.4,681.5 544.9,683.0 545.4,684.1 545.9,685.4 546.4,687.2 546.9,689.0 547.4,691.0 547.9,692.7 548.4,693.8 548.9,694.8 549.4,695.9 549.9,697.1 550.4,698.9 550.9,700.8 551.4,702.1 551.9,703.3 552.4,705.0 552.9,706.3 553.5,707.3 554.0,708.6 554.5,709.9 555.0,711.4 555.5,713.4 556.0,715.5 556.6,716.8 557.1,717.3 557.6,718.5 558.1,720.1 558.7,721.7 559.2,723.0 559.7,724.2 560.2,725.6 560.8,726.8 561.3,728.2 561.9,729.9 562.4,731.3 562.9,732.7 563.5,734.1 564.0,735.3 564.6,736.6 565.1,738.2 565.7,739.8 566.2,741.2 566.8,742.8 567.3,744.1 567.9,745.5 568.4,746.9 569.0,748.1 569.6,749.3 570.1,750.9 570.7,752.7 571.3,754.3 571.8,755.4 572.4,756.2 573.0,757.3 573.5,758.7 574.1,760.3 574.7,761.9 575.3,763.2 575.9,764.6 576.5,766.1 577.0,767.3 577.6,768.7 578.2,770.2 578.8,771.9 579.4,773.4 580.0,774.8 580.6,776.3 581.2,777.4 581.8,778.3 582.4,779.5 583.0,780.8 583.7,782.1 584.3,783.4 584.9,784.6 585.5,786.1 586.1,787.9 586.8,789.6 587.4,791.0 588.0,792.1 588.6,793.3 589.3,794.6 589.9,795.9 590.6,797.3 591.2,798.7 591.8,799.8 592.5,800.9 593.1,802.3 593.8,804.0 594.5,805.4 595.1,806.8 595.8,808.2 596.4,809.5 597.1,811.0 597.8,812.4 598.5,813.5 599.1,814.7 599.8,816.5 600.5,818.2 601.2,819.7 601.9,821.0 602.6,822.1 603.3,823.6 604.0,824.9 604.7,826.3 605.4,827.5 606.1,828.4 606.8,829.6 607.5,831.0 608.2,832.2 608.9,833.6 609.7,835.4 610.4,836.7 611.1,837.6 611.9,838.9 612.6,840.5 613.3,841.7 614.1,842.9 614.8,844.0 615.6,845.2 616.4,846.3 617.1,847.7 617.9,848.9 618.7,850.3 619.4,852.1 620.2,853.4 621.0,854.3 621.8,855.6 622.6,857.0 623.3,857.9 624.1,859.1 624.9,860.5 625.7,862.0 626.6,863.3 627.4,864.4 628.2,865.6 629.0,867.1 629.8,868.6 630.7,869.9 631.5,871.3 632.3,872.4 633.2,873.7 634.0,875.2 634.9,876.1 635.7,876.9 636.6,877.9 637.4,879.3 638.3,880.7 639.2,881.9 640.0,883.2 640.9,884.8 641.8,886.2 642.7,887.2 643.6,887.9 644.5,888.8 645.4,890.3 646.3,891.7 647.2,893.0 648.1,894.6 649.1,895.7 650.0,896.7 650.9,897.9 651.8,899.1 652.8,900.3 653.7,901.5 654.7,902.4 655.6,903.3 656.6,904.4 657.6,905.8 658.5,907.2 659.5,908.3 660.5,908.8 661.5,909.6 662.4,911.0 663.4,912.9 664.4,914.1 665.4,915.0 666.4,916.3 667.5,917.9 668.5,918.9 669.5,919.7 670.5,920.6 671.6,921.7 672.6,922.5 673.6,923.6 674.7,925.1 675.7,926.2 676.8,926.9 677.9,927.5 678.9,928.5 680.0,929.7 681.1,931.0 682.2,932.1 683.2,933.0 684.3,934.1 685.4,935.3 686.5,936.1 687.6,937.2 688.8,938.4 689.9,939.4 691.0,940.2 692.1,941.3 693.2,942.1 694.4,943.2 695.5,944.5 696.7,945.6 697.8,945.9 699.0,946.3 700.1,947.1 701.3,948.2 702.5,949.5 703.7,950.4 704.8,951.2 706.0,952.2 707.2,953.4 708.4,954.7 709.6,955.9 710.8,956.6 712.0,957.1 713.3,958.0 714.5,959.2 715.7,960.2 716.9,960.9 718.2,961.8 719.4,962.3 720.7,962.9 721.9,964.3 723.2,965.0 724.5,964.9 725.7,965.4 727.0,966.7 728.3,967.8 729.6,968.8 730.9,969.6 732.2,970.5 733.5,971.1 734.8,971.9 736.1,972.8 737.4,973.4 738.7,974.2 740.0,974.8 741.4,975.3 742.7,975.4 744.0,975.6 745.4,976.8 746.7,978.3 748.1,978.7 749.5,978.9 750.8,979.7 752.2,980.8 753.6,981.7 754.9,981.6 756.3,982.0 757.7,982.5 759.1,982.5 760.5,982.7 761.9,983.5 763.3,984.8 764.7,986.2 766.1,987.1 767.5,987.6 768.9,987.8 770.4,987.6 771.8,988.1 773.2,988.6 774.6,989.1 776.1,989.3 777.5,989.7 778.9,991.0 780.4,991.8 781.8,991.7 783.2,991.9 784.7,992.4 786.1,992.1 787.6,992.4 789.0,992.9 790.5,993.5 791.9,994.4 793.4,994.9 794.8,995.5 796.3,996.1 797.7,996.7 799.2,997.1 800.6,997.2 802.1,997.0 803.6,997.0 805.0,997.2 806.5,998.0 807.9,998.5 809.4,998.5 810.9,998.7 812.3,998.9 813.8,999.1 815.3,999.3 816.7,1000.2 818.2,1001.0 819.7,1000.8 821.1,1000.5 822.6,1001.3 824.1,1002.0 825.6,1002.8 827.0,1003.1 828.5,1003.1 830.0,1002.9 831.5,1003.0 832.9,1003.2 834.4,1003.7 835.9,1004.0 837.4,1003.7 838.8,1004.2 840.3,1004.7 841.8,1004.7 843.3,1005.1 844.8,1005.9 846.2,1006.3 847.7,1006.8 849.2,1007.2 850.7,1007.4 852.2,1007.2 853.6,1007.4 855.1,1007.3 856.6,1007.0 858.1,1007.5 859.6,1008.4 861.1,1008.8 862.5,1009.0 864.0,1008.9 865.5,1009.1 867.0,1009.0 868.5,1008.1 870.0,1008.1 871.5,1009.3 872.9,1010.2 874.4,1010.8 875.9,1010.9 877.4,1010.6 878.9,1010.3 880.4,1010.9 881.9,1010.9 883.4,1010.3 884.9,1010.1 886.4,1011.1 887.8,1012.1 889.3,1012.5 890.8,1012.7 892.3,1012.3 893.8,1011.9 895.3,1012.1 896.8,1012.8 898.3,1013.4 899.8,1013.7 901.3,1013.2 902.8,1012.6 904.3,1012.9 905.8,1013.6 907.2,1013.9 908.7,1014.0 910.2,1013.8 911.7,1013.8 913.2,1013.9 914.7,1014.3 916.2,1015.2 917.7,1016.0 919.2,1015.6 920.7,1014.8 922.2,1014.4 923.7,1015.2 925.2,1016.0 926.7,1016.7 928.2,1017.0 929.7,1016.8 931.2,1016.3 932.7,1016.7 934.2,1017.1 935.7,1016.9 937.2,1016.9 938.7,1016.4 940.2,1016.5 941.7,1016.9 943.2,1016.9 944.7,1016.6 946.1,1017.8 947.6,1018.4 949.1,1017.8 950.6,1017.7 952.1,1017.8 953.6,1018.5 955.1,1018.6 956.6,1018.3 958.1,1018.9 959.6,1018.8 961.1,1018.8 962.6,1019.3 964.1,1019.5 965.6,1019.3 967.1,1019.4 968.6,1019.1 970.1,1018.6 971.6,1018.9 973.1,1019.3 974.6,1019.5 976.1,1019.5 977.6,1018.7 979.1,1018.3 980.6,1019.4 982.1,1020.0 983.6,1019.8 985.1,1020.3 986.6,1021.2 988.1,1020.4 989.6,1019.6 991.1,1020.0 992.6,1020.0 994.1,1019.5 995.6,1019.4 997.1,1018.9 998.6,1019.7 1000.1,1021.3 1001.6,1021.8 1003.1,1021.6 1004.6,1021.2 1006.1,1020.6 1007.6,1020.8 1009.1,1020.7 1010.6,1020.1 1012.1,1020.9 1013.6,1022.0 1015.1,1022.6 1016.6,1022.7 1018.1,1022.7 1019.6,1022.0 1021.1,1020.7 1022.6,1020.2 1024.1,1020.2 1025.6,1020.8 1027.1,1022.5 1028.6,1023.8 1030.1,1023.7 1031.6,1023.1 1033.1,1023.0 1034.6,1022.7 1036.1,1022.9 1037.6,1022.7 1039.1,1021.6 1040.6,1021.8 1042.1,1023.6 1043.6,1025.1 1045.1,1024.6 1046.6,1024.1 1048.1,1023.7 1049.6,1021.9 1051.1,1020.3 1052.6,1020.5 1054.1,1022.0 1055.6,1023.5 1057.1,1023.2 1058.6,1022.5 1060.1,1022.5 1061.6,1022.6 1063.1,1022.9 1064.6,1023.5 1066.1,1024.0 1067.6,1023.2 1069.1,1022.5 1070.6,1023.4 1072.1,1023.8 1073.6,1023.3 1075.1,1023.3 1076.6,1024.0 1078.1,1025.6 1079.6,1025.5 1081.1,1024.1 1082.6,1023.5 1084.1,1024.2 1085.6,1024.5 1087.1,1024.2 1088.6,1024.6 1090.1,1025.4 1091.6,1025.1 1093.1,1025.3 1094.7,1025.1 1096.2,1024.0 1097.7,1024.5 1099.2,1025.1 1100.7,1024.2 1102.2,1023.6 1103.7,1025.3 1105.2,1026.7 1106.7,1026.1 1108.2,1024.9 1109.7,1024.1 1111.2,1024.3 1112.7,1024.3 1114.2,1023.4 1115.7,1023.5 1117.2,1024.4 1118.7,1024.9 1120.2,1025.1 1121.7,1025.7 1123.2,1026.2 1124.7,1025.6 1126.2,1024.7 1127.7,1024.1 1129.2,1024.3 1130.7,1026.0 1132.2,1027.9 1133.7,1027.1 1135.2,1025.8 1136.7,1026.3 1138.2,1025.6 1139.7,1024.6 1141.2,1024.8 1142.7,1024.5 1144.2,1024.2 1145.7,1024.3 1147.2,1024.3 1148.7,1024.5 1150.2,1026.5 1151.7,1027.6 1153.2,1026.8 1154.7,1026.3 1156.2,1026.4 1157.7,1026.1 1159.2,1026.3 1160.7,1027.1 1162.2,1027.3 1163.7,1026.8 1165.2,1026.9 1166.7,1026.7 1168.2,1025.9 1169.7,1025.1 1171.2,1024.2 1172.7,1024.8 1174.2,1026.5 1175.7,1027.8 1177.2,1028.5 1178.7,1028.0 1180.2,1026.5 1181.7,1025.8 1183.2,1025.3 1184.7,1025.7 1186.2,1026.4 1187.7,1026.9 1189.2,1027.0 1190.7,1026.7 1192.2,1026.6 1193.7,1027.4 1195.2,1028.6 1196.7,1028.3 1198.2,1026.7 1199.7,1024.9 1201.2,1024.8 1202.7,1026.4 1204.2,1027.7 1205.7,1028.1 1207.2,1027.4 1208.7,1026.1 1210.2,1026.0 1211.7,1027.7 1213.2,1028.7 1214.7,1028.2 1216.2,1027.1 1217.7,1027.7 1219.2,1027.8 1220.7,1026.5 1222.2,1025.8 1223.7,1025.8 1225.2,1026.4 1226.7,1027.1 1228.2,1028.0 1229.7,1029.0 1231.2,1028.6 1232.8,1027.7 1234.3,1027.4 1235.8,1026.3 1237.3,1025.8 1238.8,1027.0 1240.3,1028.2 1241.8,1029.1 1243.3,1029.4 1244.8,1029.8 1246.3,1029.0 1247.8,1028.2 1249.3,1028.9 1250.8,1028.5 1252.3,1027.6 1253.8,1027.2 1255.3,1028.6 1256.8,1030.3 1258.3,1028.2 1259.8,1026.4 1261.3,1028.5 1262.8,1029.1 1264.3,1028.6 1265.8,1029.1 1267.3,1029.1 1268.8,1029.1 1270.3,1030.2 1271.8,1030.6 1273.3,1030.3 1274.8,1029.6 1276.3,1029.0 1277.8,1028.5 1279.3,1027.7 1280.8,1028.0 1282.3,1029.2 1283.8,1029.5 1285.3,1029.5 1286.8,1029.1 1288.3,1029.1 1289.8,1029.4 1291.3,1028.6 1292.8,1028.1 1294.3,1029.2 1295.8,1030.5 1297.3,1030.0 1298.8,1028.2 1300.3,1027.4 1301.8,1027.6 1303.3,1027.9 1304.8,1029.1 1306.3,1029.7 1307.8,1028.3 1309.3,1026.4 1310.8,1025.7 1312.3,1026.4 1313.8,1028.0 1315.3,1028.6 1316.8,1028.2 1318.3,1029.4 1319.8,1031.2 1321.3,1031.6 1322.8,1029.8 1324.3,1029.6 1325.8,1030.4 1327.3,1030.8 1328.8,1030.9 1330.3,1030.8 1331.8,1030.6 1333.3,1029.8 1334.8,1028.9 1336.3,1029.0 1337.8,1030.1 1339.4,1029.5 1340.9,1029.4 1342.4,1029.4 1343.9,1028.3 1345.4,1027.9 1346.9,1028.5 1348.4,1029.1 1349.9,1031.7 1351.4,1033.6 1352.9,1031.5 1354.4,1028.7 1355.9,1029.3 1357.4,1030.2 1358.9,1030.4 1360.4,1030.7 1361.9,1030.4 1363.4,1030.1 1364.9,1029.3 1366.4,1029.3 1367.9,1030.8 1369.4,1031.4 1370.9,1031.2 1372.4,1031.6 1373.9,1030.5 1375.4,1029.1 1376.9,1028.9 1378.4,1029.8 1379.9,1031.2 1381.4,1031.7 1382.9,1031.7 1384.4,1031.6 1385.9,1030.7 1387.4,1030.6 1388.9,1029.9 1390.4,1028.8 1391.9,1029.7 1393.4,1031.0 1394.9,1031.9 1396.4,1031.8 1397.9,1032.1 1399.4,1031.3 1400.9,1030.4 1402.4,1031.6 1403.9,1032.2 1405.4,1031.8 1406.9,1032.0 1408.4,1032.7 1409.9,1032.4 1411.4,1032.5 1412.9,1032.1 1414.4,1031.0 1415.9,1030.5 1417.4,1030.9 1418.9,1030.6 1420.4,1030.2 1421.9,1031.2 1423.4,1031.8 1424.9,1030.7 1426.4,1029.9 1427.9,1030.8 1429.4,1031.6 1430.9,1031.8 1432.4,1031.0 1433.9,1030.4 1435.5,1030.9 1437.0,1032.2 1438.5,1032.8 1440.0,1030.6 1441.5,1029.3 1443.0,1030.0 1444.5,1029.8 1446.0,1028.3 1447.5,1028.0 1449.0,1029.1 1450.5,1030.3 1452.0,1031.2 1453.5,1031.9 1455.0,1031.3 1456.5,1030.5 1458.0,1031.0 1459.5,1031.6 1461.0,1030.5 1462.5,1028.8 1464.0,1030.1 1465.5,1032.2 1467.0,1032.8 1468.5,1031.8 1470.0,1030.6 1471.5,1030.3 1473.0,1031.9 1474.5,1032.3 1476.0,1031.2 1477.5,1031.0 1479.0,1031.6 1480.5,1032.2 1482.0,1031.9 1483.5,1031.8 1485.0,1031.7 1486.5,1031.6 1488.0,1032.6 1489.5,1033.3 1491.0,1032.3 1492.5,1031.8 1494.0,1033.6 1495.5,1034.8 1497.0,1033.9 1498.5,1032.6 1500.0,1032.3 1501.5,1033.1 1503.0,1033.9" fill="none" stroke="#8000ff" stroke-width="9.5" stroke-linejoin="round" stroke-linecap="round"/></g>
<g fill="#000" shape-rendering="crispEdges">
<rect x="221" y="57" width="1284" height="3"/>
<rect x="221" y="1166" width="1284" height="3"/>
<rect x="238" y="57" width="4" height="1112"/>
<rect x="1501" y="57" width="4" height="1130"/>
<rect x="221" y="1008" width="19" height="3"/>
<rect x="221" y="849" width="19" height="3"/>
<rect x="221" y="690" width="19" height="3"/>
<rect x="221" y="532" width="19" height="3"/>
<rect x="221" y="374" width="19" height="3"/>
<rect x="221" y="215" width="19" height="3"/>
<rect x="231" y="1087" width="9" height="3"/>
<rect x="231" y="928" width="9" height="3"/>
<rect x="231" y="770" width="9" height="3"/>
<rect x="231" y="611" width="9" height="3"/>
<rect x="231" y="453" width="9" height="3"/>
<rect x="231" y="294" width="9" height="3"/>
<rect x="231" y="136" width="9" height="3"/>
<rect x="346" y="1167" width="4" height="20"/>
<rect x="577" y="1167" width="4" height="20"/>
<rect x="808" y="1167" width="4" height="20"/>
<rect x="1039" y="1167" width="4" height="20"/>
<rect x="1270" y="1167" width="4" height="20"/>
<rect x="462" y="1167" width="3" height="10"/>
<rect x="693" y="1167" width="3" height="10"/>
<rect x="924" y="1167" width="3" height="10"/>
<rect x="1155" y="1167" width="3" height="10"/>
<rect x="1386" y="1167" width="3" height="10"/>
</g>
<g font-family="'Liberation Sans', Arial, Helvetica, sans-serif" font-size="66" fill="#000">
<text transform="translate(208.5,1188.3) scale(1,1.041)" text-anchor="end">0</text>
<text transform="translate(208.5,1029.8) scale(1,1.041)" text-anchor="end">1</text>
<text transform="translate(208.5,871.3) scale(1,1.041)" text-anchor="end">2</text>
<text transform="translate(208.5,712.8) scale(1,1.041)" text-anchor="end">3</text>
<text transform="translate(208.5,554.3) scale(1,1.041)" text-anchor="end">4</text>
<text transform="translate(208.5,395.8) scale(1,1.041)" text-anchor="end">5</text>
<text transform="translate(208.5,237.3) scale(1,1.041)" text-anchor="end">6</text>
<text transform="translate(208.5,78.8) scale(1,1.041)" text-anchor="end">7</text>
<text transform="translate(348.6,1251.5) scale(1,1.041)" text-anchor="middle">350</text>
<text transform="translate(579.6,1251.5) scale(1,1.041)" text-anchor="middle">500</text>
<text transform="translate(810.6,1251.5) scale(1,1.041)" text-anchor="middle">650</text>
<text transform="translate(1041.6,1251.5) scale(1,1.041)" text-anchor="middle">800</text>
<text transform="translate(1272.6,1251.5) scale(1,1.041)" text-anchor="middle">950</text>
<text transform="translate(1504.5,1251.5) scale(1,1.041)" text-anchor="middle">1100</text>
</g>
<text transform="translate(665.5,1352) scale(1,1.041)" font-family="'Liberation Sans', Arial, Helvetica, sans-serif" font-weight="bold" font-size="73.6" fill="#000">Wavelength [nm]</text>
<g font-family="'Liberation Sans', Arial, Helvetica, sans-serif" font-weight="bold" fill="#000"><text transform="translate(108,1117.9) rotate(-90) scale(1,1.041)" font-size="74.1">Absorption coefficient [cm</text><text transform="translate(78,177.3) rotate(-90) scale(1,1.041)" font-size="49.5">-1</text><text transform="translate(108,135.3) rotate(-90) scale(1,1.041)" font-size="74.1">]</text></g>
<line x1="873" y1="414.9" x2="993" y2="414.9" stroke="#000000" stroke-width="10" stroke-linecap="round"/>
<text transform="translate(1008.5,433.4) scale(1,1.041)" font-family="'Liberation Sans', Arial, Helvetica, sans-serif" font-size="52.8" letter-spacing="0.75" fill="#000">x= 0.25</text>
<line x1="873" y1="481.6" x2="993" y2="481.6" stroke="#0000ff" stroke-width="10" stroke-linecap="round"/>
<text transform="translate(1008.5,500.1) scale(1,1.041)" font-family="'Liberation Sans', Arial, Helvetica, sans-serif" font-size="52.8" letter-spacing="0.75" fill="#000">x= 0.30</text>
<line x1="873" y1="548.1" x2="993" y2="548.1" stroke="#ff00ff" stroke-width="10" stroke-linecap="round"/>
<text transform="translate(1008.5,566.6) scale(1,1.041)" font-family="'Liberation Sans', Arial, Helvetica, sans-serif" font-size="52.8" letter-spacing="0.75" fill="#000">x= 0.325</text>
<line x1="873" y1="614.6" x2="993" y2="614.6" stroke="#008000" stroke-width="10" stroke-linecap="round"/>
<text transform="translate(1008.5,633.1) scale(1,1.041)" font-family="'Liberation Sans', Arial, Helvetica, sans-serif" font-size="52.8" letter-spacing="0.75" fill="#000">x= 0.35</text>
<line x1="873" y1="681.4" x2="993" y2="681.4" stroke="#8000ff" stroke-width="10" stroke-linecap="round"/>
<text transform="translate(1008.5,699.9) scale(1,1.041)" font-family="'Liberation Sans', Arial, Helvetica, sans-serif" font-size="52.8" letter-spacing="0.75" fill="#000">x= 0.40</text>
</svg>
</body></html>
